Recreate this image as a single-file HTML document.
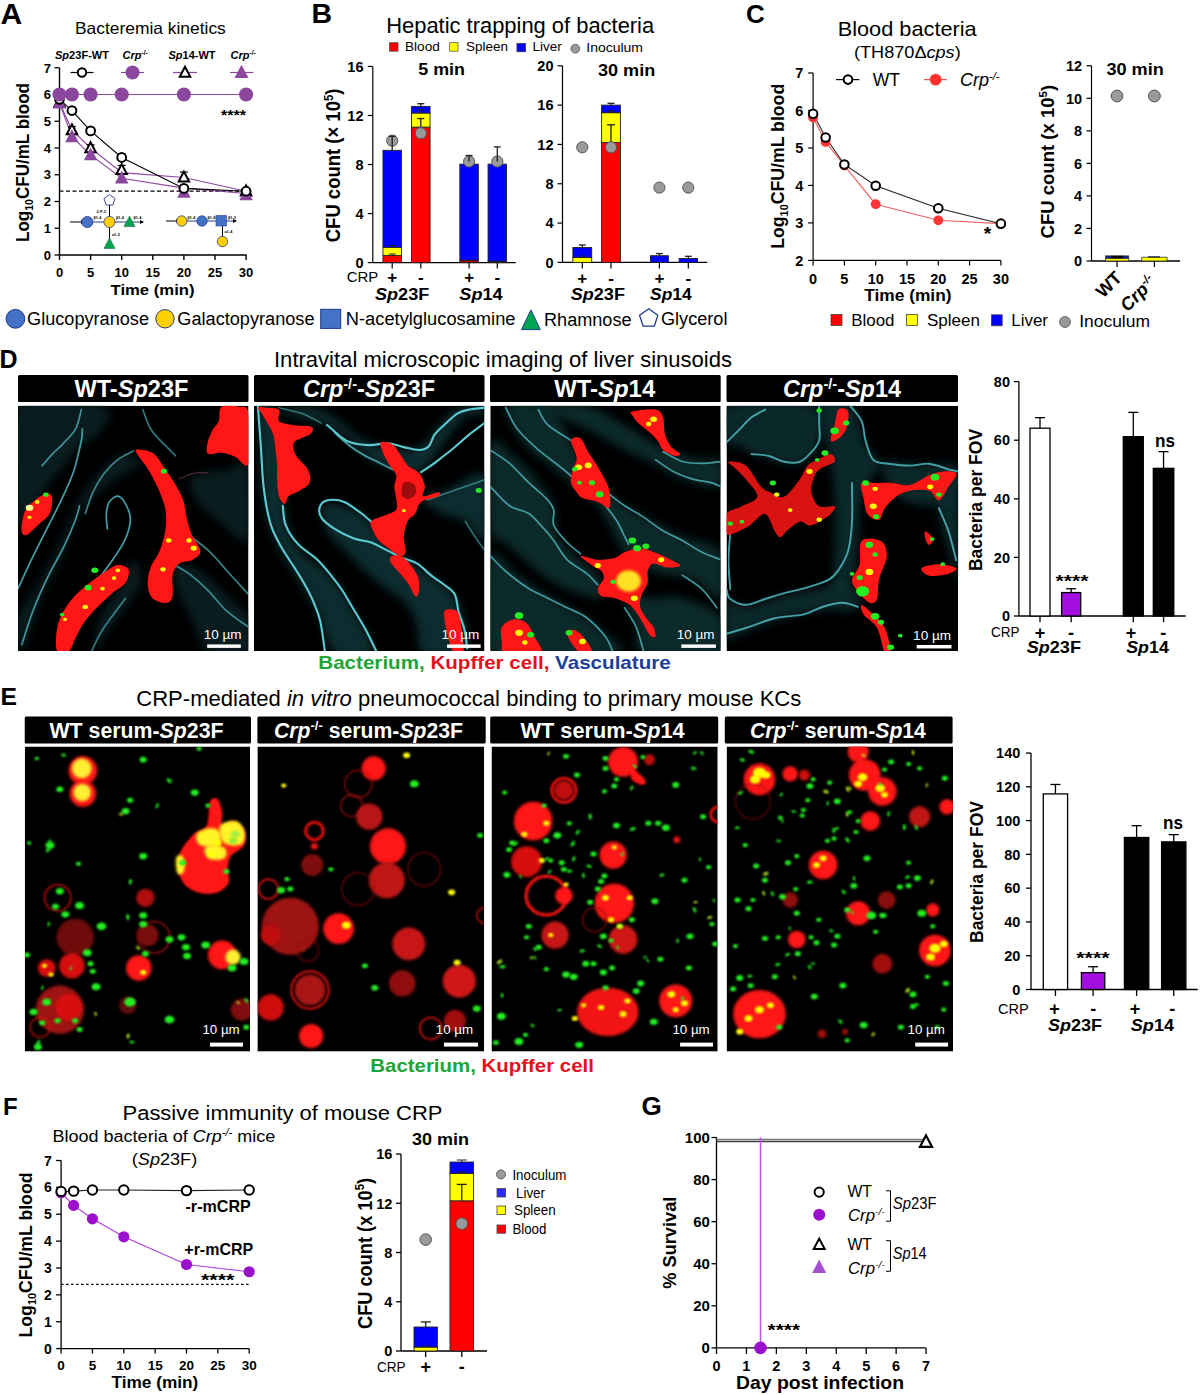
<!DOCTYPE html>
<html><head><meta charset="utf-8"><style>
html,body{margin:0;padding:0;background:#fff;}
svg{display:block;font-family:"Liberation Sans", sans-serif;}
</style></head><body>
<svg width="1200" height="1395" viewBox="0 0 1200 1395">
<rect width="1200" height="1395" fill="#fff"/>
<text x="0.5" y="23.8" font-size="30" font-weight="bold" >A</text>
<text x="75.0" y="34.2" font-size="16.5" textLength="150.8" lengthAdjust="spacingAndGlyphs" >Bacteremia kinetics</text>
<text x="55.0" y="59.0" font-size="11" textLength="54.0" lengthAdjust="spacingAndGlyphs" ><tspan font-weight="bold" font-style="italic">Sp</tspan><tspan font-weight="bold" font-style="normal">23F-WT</tspan></text>
<text x="122.5" y="59.0" font-size="11" ><tspan font-weight="bold" font-style="italic">Crp</tspan><tspan font-weight="bold" font-style="normal" font-size="6.8" dy="-3.96">-/-</tspan></text>
<text x="168.5" y="59.0" font-size="11" textLength="47.0" lengthAdjust="spacingAndGlyphs" ><tspan font-weight="bold" font-style="italic">Sp</tspan><tspan font-weight="bold" font-style="normal">14-WT</tspan></text>
<text x="230.5" y="59.0" font-size="11" ><tspan font-weight="bold" font-style="italic">Crp</tspan><tspan font-weight="bold" font-style="normal" font-size="6.8" dy="-3.96">-/-</tspan></text>
<line x1="70.50" y1="72.50" x2="93.50" y2="72.50" stroke="#000" stroke-width="1.2" />
<circle cx="82.00" cy="72.50" r="4.20" fill="#fff" stroke="#000" stroke-width="2" />
<line x1="121.00" y1="72.50" x2="144.00" y2="72.50" stroke="#8b479e" stroke-width="1.2" />
<circle cx="132.50" cy="72.50" r="7.00" fill="#8b479e" stroke="none" stroke-width="1" />
<line x1="173.00" y1="72.50" x2="197.00" y2="72.50" stroke="#8b479e" stroke-width="1.2" />
<polygon points="185.00,66.71 190.25,76.69 179.75,76.69" fill="#fff" stroke="#000" stroke-width="2" stroke-linejoin="miter"/>
<line x1="230.00" y1="72.50" x2="253.50" y2="72.50" stroke="#8b479e" stroke-width="1.2" />
<polygon points="241.50,64.79 248.50,78.09 234.50,78.09" fill="#8b479e" stroke="none" stroke-width="1" stroke-linejoin="miter"/>
<line x1="59.50" y1="67.75" x2="59.50" y2="255.00" stroke="#000" stroke-width="1.4" />
<line x1="59.50" y1="255.00" x2="246.60" y2="255.00" stroke="#000" stroke-width="1.6" />
<line x1="54.50" y1="255.00" x2="59.50" y2="255.00" stroke="#000" stroke-width="1.3" />
<text x="51.0" y="259.7" font-size="13" font-weight="bold" text-anchor="end" >0</text>
<line x1="54.50" y1="228.25" x2="59.50" y2="228.25" stroke="#000" stroke-width="1.3" />
<text x="51.0" y="232.9" font-size="13" font-weight="bold" text-anchor="end" >1</text>
<line x1="54.50" y1="201.50" x2="59.50" y2="201.50" stroke="#000" stroke-width="1.3" />
<text x="51.0" y="206.2" font-size="13" font-weight="bold" text-anchor="end" >2</text>
<line x1="54.50" y1="174.75" x2="59.50" y2="174.75" stroke="#000" stroke-width="1.3" />
<text x="51.0" y="179.4" font-size="13" font-weight="bold" text-anchor="end" >3</text>
<line x1="54.50" y1="148.00" x2="59.50" y2="148.00" stroke="#000" stroke-width="1.3" />
<text x="51.0" y="152.7" font-size="13" font-weight="bold" text-anchor="end" >4</text>
<line x1="54.50" y1="121.25" x2="59.50" y2="121.25" stroke="#000" stroke-width="1.3" />
<text x="51.0" y="126.0" font-size="13" font-weight="bold" text-anchor="end" >5</text>
<line x1="54.50" y1="94.50" x2="59.50" y2="94.50" stroke="#000" stroke-width="1.3" />
<text x="51.0" y="99.2" font-size="13" font-weight="bold" text-anchor="end" >6</text>
<line x1="54.50" y1="67.75" x2="59.50" y2="67.75" stroke="#000" stroke-width="1.3" />
<text x="51.0" y="72.5" font-size="13" font-weight="bold" text-anchor="end" >7</text>
<line x1="59.50" y1="255.00" x2="59.50" y2="260.00" stroke="#000" stroke-width="1.4" />
<text x="59.5" y="276.5" font-size="13" font-weight="bold" text-anchor="middle" >0</text>
<line x1="90.60" y1="255.00" x2="90.60" y2="260.00" stroke="#000" stroke-width="1.4" />
<text x="90.6" y="276.5" font-size="13" font-weight="bold" text-anchor="middle" >5</text>
<line x1="121.70" y1="255.00" x2="121.70" y2="260.00" stroke="#000" stroke-width="1.4" />
<text x="121.7" y="276.5" font-size="13" font-weight="bold" text-anchor="middle" >10</text>
<line x1="152.80" y1="255.00" x2="152.80" y2="260.00" stroke="#000" stroke-width="1.4" />
<text x="152.8" y="276.5" font-size="13" font-weight="bold" text-anchor="middle" >15</text>
<line x1="183.90" y1="255.00" x2="183.90" y2="260.00" stroke="#000" stroke-width="1.4" />
<text x="183.9" y="276.5" font-size="13" font-weight="bold" text-anchor="middle" >20</text>
<line x1="215.00" y1="255.00" x2="215.00" y2="260.00" stroke="#000" stroke-width="1.4" />
<text x="215.0" y="276.5" font-size="13" font-weight="bold" text-anchor="middle" >25</text>
<line x1="246.10" y1="255.00" x2="246.10" y2="260.00" stroke="#000" stroke-width="1.4" />
<text x="246.1" y="276.5" font-size="13" font-weight="bold" text-anchor="middle" >30</text>
<text x="152.5" y="295.2" font-size="14.5" font-weight="bold" text-anchor="middle" textLength="84.0" lengthAdjust="spacingAndGlyphs" >Time (min)</text>
<g transform="translate(28.8,162.5) rotate(-90)">
<text x="0.0" y="0.0" font-size="17.5" text-anchor="middle" textLength="159.0" lengthAdjust="spacingAndGlyphs" ><tspan font-weight="bold" font-style="normal">Log</tspan><tspan font-weight="bold" font-style="normal" font-size="10.8" dy="3.85">10</tspan><tspan font-weight="bold" font-style="normal" dy="-3.85">CFU/mL blood</tspan></text>
</g>
<line x1="59.50" y1="191.20" x2="246.10" y2="191.20" stroke="#000" stroke-width="1.3" stroke-dasharray="4,2.5"/>
<polyline points="59.50,102.53 71.94,130.08 90.60,148.00 121.70,172.61 183.90,177.43 246.10,191.20" fill="none" stroke="#8b479e" stroke-width="1.1" />
<polyline points="59.50,103.06 71.94,136.76 90.60,154.95 121.70,178.23 183.90,188.12 246.10,193.47" fill="none" stroke="#8b479e" stroke-width="1.1" />
<polyline points="59.50,99.31 71.94,110.55 90.60,130.88 121.70,157.50 183.90,188.39 246.10,191.20" fill="none" stroke="#000" stroke-width="1.1" />
<polyline points="59.50,94.50 71.94,94.50 90.60,94.50 121.70,94.50 183.90,94.50 246.10,94.50" fill="none" stroke="#8b479e" stroke-width="1.1" />
<line x1="90.60" y1="130.88" x2="90.60" y2="127.94" stroke="#000" stroke-width="1.2" />
<line x1="86.60" y1="127.94" x2="94.60" y2="127.94" stroke="#000" stroke-width="1.2" />
<line x1="121.70" y1="157.50" x2="121.70" y2="153.88" stroke="#000" stroke-width="1.2" />
<line x1="117.70" y1="153.88" x2="125.70" y2="153.88" stroke="#000" stroke-width="1.2" />
<line x1="183.90" y1="177.43" x2="183.90" y2="172.07" stroke="#000" stroke-width="1.2" />
<line x1="179.90" y1="172.07" x2="187.90" y2="172.07" stroke="#000" stroke-width="1.2" />
<line x1="121.70" y1="169.94" x2="121.70" y2="165.39" stroke="#000" stroke-width="1.2" />
<line x1="117.70" y1="165.39" x2="125.70" y2="165.39" stroke="#000" stroke-width="1.2" />
<line x1="90.60" y1="148.00" x2="90.60" y2="144.79" stroke="#000" stroke-width="1.2" />
<line x1="86.60" y1="144.79" x2="94.60" y2="144.79" stroke="#000" stroke-width="1.2" />
<line x1="71.94" y1="130.08" x2="71.94" y2="126.60" stroke="#000" stroke-width="1.2" />
<line x1="67.94" y1="126.60" x2="75.94" y2="126.60" stroke="#000" stroke-width="1.2" />
<polygon points="59.50,96.74 64.75,106.71 54.25,106.71" fill="#fff" stroke="#000" stroke-width="2" stroke-linejoin="miter"/>
<polygon points="71.94,124.29 77.19,134.27 66.69,134.27" fill="#fff" stroke="#000" stroke-width="2" stroke-linejoin="miter"/>
<polygon points="90.60,142.21 95.85,152.19 85.35,152.19" fill="#fff" stroke="#000" stroke-width="2" stroke-linejoin="miter"/>
<polygon points="121.70,164.15 126.95,174.12 116.45,174.12" fill="#fff" stroke="#000" stroke-width="2" stroke-linejoin="miter"/>
<polygon points="183.90,171.64 189.15,181.61 178.65,181.61" fill="#fff" stroke="#000" stroke-width="2" stroke-linejoin="miter"/>
<polygon points="246.10,185.42 251.35,195.39 240.85,195.39" fill="#fff" stroke="#000" stroke-width="2" stroke-linejoin="miter"/>
<polygon points="59.50,95.62 66.25,108.45 52.75,108.45" fill="#8b479e" stroke="none" stroke-width="1" stroke-linejoin="miter"/>
<polygon points="71.94,129.33 78.69,142.15 65.19,142.15" fill="#8b479e" stroke="none" stroke-width="1" stroke-linejoin="miter"/>
<polygon points="90.60,147.52 97.35,160.34 83.85,160.34" fill="#8b479e" stroke="none" stroke-width="1" stroke-linejoin="miter"/>
<polygon points="121.70,170.79 128.45,183.61 114.95,183.61" fill="#8b479e" stroke="none" stroke-width="1" stroke-linejoin="miter"/>
<polygon points="183.90,184.97 190.65,197.79 177.15,197.79" fill="#8b479e" stroke="none" stroke-width="1" stroke-linejoin="miter"/>
<polygon points="246.10,187.37 252.85,200.20 239.35,200.20" fill="#8b479e" stroke="none" stroke-width="1" stroke-linejoin="miter"/>
<circle cx="59.50" cy="99.31" r="4.40" fill="#fff" stroke="#000" stroke-width="2" />
<circle cx="71.94" cy="110.55" r="4.40" fill="#fff" stroke="#000" stroke-width="2" />
<circle cx="90.60" cy="130.88" r="4.40" fill="#fff" stroke="#000" stroke-width="2" />
<circle cx="121.70" cy="157.50" r="4.40" fill="#fff" stroke="#000" stroke-width="2" />
<circle cx="183.90" cy="188.39" r="4.40" fill="#fff" stroke="#000" stroke-width="2" />
<circle cx="246.10" cy="191.20" r="4.40" fill="#fff" stroke="#000" stroke-width="2" />
<circle cx="59.50" cy="94.50" r="7.10" fill="#8b479e" stroke="none" stroke-width="1" />
<circle cx="71.94" cy="94.50" r="7.10" fill="#8b479e" stroke="none" stroke-width="1" />
<circle cx="90.60" cy="94.50" r="7.10" fill="#8b479e" stroke="none" stroke-width="1" />
<circle cx="121.70" cy="94.50" r="7.10" fill="#8b479e" stroke="none" stroke-width="1" />
<circle cx="183.90" cy="94.50" r="7.10" fill="#8b479e" stroke="none" stroke-width="1" />
<circle cx="246.10" cy="94.50" r="7.10" fill="#8b479e" stroke="none" stroke-width="1" />
<text x="233.5" y="119.5" font-size="15" font-weight="bold" text-anchor="middle" textLength="25.0" lengthAdjust="spacingAndGlyphs" >****</text>
<line x1="70.00" y1="222.00" x2="84.00" y2="222.00" stroke="#000" stroke-width="1" />
<polygon points="81.00,219.80 85.00,222.00 81.00,224.20" fill="#000" stroke="none" stroke-width="1" />
<line x1="87.30" y1="222.00" x2="143.00" y2="222.00" stroke="#2b3d8f" stroke-width="1" />
<polygon points="140.00,220.00 144.00,222.00 140.00,224.00" fill="#000" stroke="none" stroke-width="1" />
<line x1="109.50" y1="200.00" x2="109.50" y2="242.00" stroke="#000" stroke-width="1" />
<circle cx="87.30" cy="222.00" r="5.60" fill="#4472c4" stroke="#2b3d8f" stroke-width="0.8" />
<circle cx="109.50" cy="222.00" r="5.60" fill="#ffd000" stroke="#2b3d8f" stroke-width="0.8" />
<polygon points="129.50,216.14 135.00,226.59 124.00,226.59" fill="#00a550" stroke="#1f5f3f" stroke-width="0.6" stroke-linejoin="miter"/>
<polygon points="109.50,237.94 115.00,248.39 104.00,248.39" fill="#00a550" stroke="#1f5f3f" stroke-width="0.6" stroke-linejoin="miter"/>
<polygon points="109.50,194.50 115.02,198.51 112.91,204.99 106.09,204.99 103.98,198.51" fill="#fff" stroke="#2b3d8f" stroke-width="0.9" />
<text x="96.5" y="213.0" font-size="3.8" font-weight="bold" >2-P-3</text>
<text x="93.5" y="219.3" font-size="3.8" font-weight="bold" >β1-4</text>
<text x="116.0" y="219.3" font-size="3.8" font-weight="bold" >β1-4</text>
<text x="133.5" y="219.3" font-size="3.8" font-weight="bold" >β1-4</text>
<text x="112.0" y="235.5" font-size="3.8" font-weight="bold" >α1-2</text>
<line x1="166.00" y1="221.00" x2="179.00" y2="221.00" stroke="#000" stroke-width="1" />
<polygon points="176.00,219.00 180.00,221.00 176.00,223.00" fill="#000" stroke="none" stroke-width="1" />
<line x1="181.75" y1="221.00" x2="236.00" y2="221.00" stroke="#2b3d8f" stroke-width="1" />
<polygon points="233.00,219.00 237.00,221.00 233.00,223.00" fill="#000" stroke="none" stroke-width="1" />
<line x1="222.50" y1="221.00" x2="222.50" y2="240.00" stroke="#000" stroke-width="1" />
<circle cx="181.75" cy="221.00" r="5.20" fill="#ffd000" stroke="#2b3d8f" stroke-width="0.8" />
<circle cx="202.00" cy="221.00" r="5.20" fill="#4472c4" stroke="#2b3d8f" stroke-width="0.8" />
<rect x="216.00" y="215.50" width="10.50" height="10.50" fill="#4472c4" stroke="#2b3d8f" stroke-width="0.6" />
<circle cx="222.50" cy="241.50" r="5.20" fill="#ffd000" stroke="#2b3d8f" stroke-width="0.8" />
<text x="187.5" y="218.5" font-size="3.8" font-weight="bold" >β1-4</text>
<text x="207.5" y="218.5" font-size="3.8" font-weight="bold" >β1-4</text>
<text x="228.0" y="218.5" font-size="3.8" font-weight="bold" >β1-3</text>
<text x="224.5" y="233.0" font-size="3.8" font-weight="bold" >α1-4</text>
<circle cx="15.40" cy="318.80" r="9.40" fill="#4472c4" stroke="#1f3a8a" stroke-width="1" />
<text x="27.1" y="324.7" font-size="18" textLength="121.9" lengthAdjust="spacingAndGlyphs" >Glucopyranose</text>
<circle cx="165.00" cy="318.80" r="9.20" fill="#ffd000" stroke="#1f3a8a" stroke-width="1" />
<text x="177.3" y="324.7" font-size="18" textLength="137.2" lengthAdjust="spacingAndGlyphs" >Galactopyranose</text>
<rect x="320.70" y="309.30" width="20.00" height="19.10" fill="#4472c4" stroke="#1f3a8a" stroke-width="1" />
<text x="345.8" y="324.5" font-size="18" textLength="169.7" lengthAdjust="spacingAndGlyphs" >N-acetylglucosamine</text>
<polygon points="530.90,309.90 540.30,329.60 521.50,329.60" fill="#00a550" stroke="#1f3a8a" stroke-width="1" />
<text x="544.0" y="326.0" font-size="18" textLength="87.5" lengthAdjust="spacingAndGlyphs" >Rhamnose</text>
<polygon points="648.70,308.70 657.83,315.33 654.34,326.07 643.06,326.07 639.57,315.33" fill="#fff" stroke="#1f3a8a" stroke-width="1.3" />
<text x="661.0" y="324.5" font-size="18" textLength="66.4" lengthAdjust="spacingAndGlyphs" >Glycerol</text>
<text x="311.5" y="22.8" font-size="28.5" font-weight="bold" >B</text>
<text x="386.2" y="33.0" font-size="22" textLength="268.0" lengthAdjust="spacingAndGlyphs" >Hepatic trapping of bacteria</text>
<rect x="389.50" y="42.70" width="8.50" height="8.50" fill="#ff0000" stroke="#444" stroke-width="0.7" />
<text x="405.0" y="51.0" font-size="13.5" textLength="34.8" lengthAdjust="spacingAndGlyphs" >Blood</text>
<rect x="449.70" y="42.70" width="8.30" height="8.50" fill="#ffff00" stroke="#444" stroke-width="0.7" />
<text x="466.0" y="51.0" font-size="13.5" textLength="42.0" lengthAdjust="spacingAndGlyphs" >Spleen</text>
<rect x="516.90" y="43.30" width="8.80" height="8.50" fill="#0000ff" stroke="#444" stroke-width="0.7" />
<text x="532.5" y="51.2" font-size="13.5" textLength="29.2" lengthAdjust="spacingAndGlyphs" >Liver</text>
<circle cx="575.30" cy="48.70" r="4.40" fill="#9a9a9a" stroke="#555" stroke-width="0.8" />
<text x="586.3" y="51.5" font-size="13.5" textLength="56.7" lengthAdjust="spacingAndGlyphs" >Inoculum</text>
<line x1="372.80" y1="66.44" x2="372.80" y2="262.60" stroke="#000" stroke-width="1.2" />
<line x1="372.80" y1="262.60" x2="515.80" y2="262.60" stroke="#000" stroke-width="1.4" />
<line x1="367.80" y1="262.60" x2="372.80" y2="262.60" stroke="#000" stroke-width="1.2" />
<text x="363.5" y="267.8" font-size="14.5" font-weight="bold" text-anchor="end" >0</text>
<line x1="367.80" y1="213.56" x2="372.80" y2="213.56" stroke="#000" stroke-width="1.2" />
<text x="363.5" y="218.8" font-size="14.5" font-weight="bold" text-anchor="end" >4</text>
<line x1="367.80" y1="164.52" x2="372.80" y2="164.52" stroke="#000" stroke-width="1.2" />
<text x="363.5" y="169.7" font-size="14.5" font-weight="bold" text-anchor="end" >8</text>
<line x1="367.80" y1="115.48" x2="372.80" y2="115.48" stroke="#000" stroke-width="1.2" />
<text x="363.5" y="120.7" font-size="14.5" font-weight="bold" text-anchor="end" >12</text>
<line x1="367.80" y1="66.44" x2="372.80" y2="66.44" stroke="#000" stroke-width="1.2" />
<text x="363.5" y="71.6" font-size="14.5" font-weight="bold" text-anchor="end" >16</text>
<text x="441.6" y="75.2" font-size="16" font-weight="bold" text-anchor="middle" textLength="46.7" lengthAdjust="spacingAndGlyphs" >5 min</text>
<line x1="392.20" y1="262.60" x2="392.20" y2="268.60" stroke="#000" stroke-width="1.2" />
<line x1="420.80" y1="262.60" x2="420.80" y2="268.60" stroke="#000" stroke-width="1.2" />
<line x1="469.10" y1="262.60" x2="469.10" y2="268.60" stroke="#000" stroke-width="1.2" />
<line x1="497.30" y1="262.60" x2="497.30" y2="268.60" stroke="#000" stroke-width="1.2" />
<rect x="382.95" y="255.49" width="18.50" height="7.11" fill="#ff0000" stroke="#222" stroke-width="0.9" />
<rect x="382.95" y="247.28" width="18.50" height="8.21" fill="#ffff00" stroke="#222" stroke-width="0.9" />
<rect x="382.95" y="150.30" width="18.50" height="96.98" fill="#0000ff" stroke="#222" stroke-width="0.9" />
<line x1="392.20" y1="247.28" x2="392.20" y2="245.44" stroke="#222" stroke-width="1" />
<line x1="388.70" y1="245.44" x2="395.70" y2="245.44" stroke="#222" stroke-width="1" />
<line x1="392.20" y1="255.49" x2="392.20" y2="254.02" stroke="#222" stroke-width="1" />
<line x1="388.70" y1="254.02" x2="395.70" y2="254.02" stroke="#222" stroke-width="1" />
<circle cx="392.20" cy="140.70" r="5.60" fill="#9a9a9a" stroke="#555" stroke-width="1" />
<line x1="392.20" y1="150.30" x2="392.20" y2="136.32" stroke="#222" stroke-width="1.3" />
<line x1="388.70" y1="136.32" x2="395.70" y2="136.32" stroke="#222" stroke-width="1.3" />
<rect x="411.55" y="127.13" width="18.50" height="135.47" fill="#ff0000" stroke="#222" stroke-width="0.9" />
<rect x="411.55" y="113.03" width="18.50" height="14.10" fill="#ffff00" stroke="#222" stroke-width="0.9" />
<rect x="411.55" y="106.41" width="18.50" height="6.62" fill="#0000ff" stroke="#222" stroke-width="0.9" />
<line x1="420.80" y1="127.13" x2="420.80" y2="118.55" stroke="#222" stroke-width="1.3" />
<line x1="417.30" y1="118.55" x2="424.30" y2="118.55" stroke="#222" stroke-width="1.3" />
<line x1="420.80" y1="113.03" x2="420.80" y2="109.96" stroke="#222" stroke-width="1.3" />
<line x1="417.30" y1="109.96" x2="424.30" y2="109.96" stroke="#222" stroke-width="1.3" />
<line x1="420.80" y1="106.41" x2="420.80" y2="103.71" stroke="#222" stroke-width="1.3" />
<line x1="417.30" y1="103.71" x2="424.30" y2="103.71" stroke="#222" stroke-width="1.3" />
<circle cx="420.80" cy="133.20" r="5.60" fill="#9a9a9a" stroke="#555" stroke-width="1" />
<rect x="459.85" y="260.15" width="18.50" height="2.45" fill="#b00000" stroke="#222" stroke-width="0.9" />
<rect x="459.85" y="164.15" width="18.50" height="96.00" fill="#0000ff" stroke="#222" stroke-width="0.9" />
<circle cx="469.10" cy="161.50" r="5.60" fill="#9a9a9a" stroke="#555" stroke-width="1" />
<line x1="469.10" y1="161.50" x2="469.10" y2="155.50" stroke="#222" stroke-width="1.3" />
<line x1="465.60" y1="155.50" x2="472.60" y2="155.50" stroke="#222" stroke-width="1.3" />
<rect x="488.05" y="261.13" width="18.50" height="1.47" fill="#200000" stroke="#222" stroke-width="0.9" />
<rect x="488.05" y="164.15" width="18.50" height="96.98" fill="#0000ff" stroke="#222" stroke-width="0.9" />
<circle cx="497.30" cy="161.50" r="5.60" fill="#9a9a9a" stroke="#555" stroke-width="1" />
<line x1="497.30" y1="161.50" x2="497.30" y2="146.90" stroke="#222" stroke-width="1.3" />
<line x1="493.80" y1="146.90" x2="500.80" y2="146.90" stroke="#222" stroke-width="1.3" />
<line x1="562.50" y1="65.80" x2="562.50" y2="262.40" stroke="#000" stroke-width="1.2" />
<line x1="562.50" y1="262.40" x2="707.30" y2="262.40" stroke="#000" stroke-width="1.4" />
<line x1="557.50" y1="262.40" x2="562.50" y2="262.40" stroke="#000" stroke-width="1.2" />
<text x="553.5" y="267.6" font-size="14.5" font-weight="bold" text-anchor="end" >0</text>
<line x1="557.50" y1="223.08" x2="562.50" y2="223.08" stroke="#000" stroke-width="1.2" />
<text x="553.5" y="228.3" font-size="14.5" font-weight="bold" text-anchor="end" >4</text>
<line x1="557.50" y1="183.76" x2="562.50" y2="183.76" stroke="#000" stroke-width="1.2" />
<text x="553.5" y="189.0" font-size="14.5" font-weight="bold" text-anchor="end" >8</text>
<line x1="557.50" y1="144.44" x2="562.50" y2="144.44" stroke="#000" stroke-width="1.2" />
<text x="553.5" y="149.6" font-size="14.5" font-weight="bold" text-anchor="end" >12</text>
<line x1="557.50" y1="105.12" x2="562.50" y2="105.12" stroke="#000" stroke-width="1.2" />
<text x="553.5" y="110.3" font-size="14.5" font-weight="bold" text-anchor="end" >16</text>
<line x1="557.50" y1="65.80" x2="562.50" y2="65.80" stroke="#000" stroke-width="1.2" />
<text x="553.5" y="71.0" font-size="14.5" font-weight="bold" text-anchor="end" >20</text>
<text x="626.6" y="75.6" font-size="16" font-weight="bold" text-anchor="middle" textLength="57.3" lengthAdjust="spacingAndGlyphs" >30 min</text>
<line x1="582.30" y1="262.40" x2="582.30" y2="268.40" stroke="#000" stroke-width="1.2" />
<line x1="611.00" y1="262.40" x2="611.00" y2="268.40" stroke="#000" stroke-width="1.2" />
<line x1="659.40" y1="262.40" x2="659.40" y2="268.40" stroke="#000" stroke-width="1.2" />
<line x1="688.30" y1="262.40" x2="688.30" y2="268.40" stroke="#000" stroke-width="1.2" />
<rect x="572.90" y="257.48" width="18.80" height="4.92" fill="#ffff00" stroke="#222" stroke-width="0.9" />
<rect x="572.90" y="247.46" width="18.80" height="10.03" fill="#0000ff" stroke="#222" stroke-width="0.9" />
<line x1="582.30" y1="247.46" x2="582.30" y2="245.00" stroke="#222" stroke-width="1.3" />
<line x1="578.80" y1="245.00" x2="585.80" y2="245.00" stroke="#222" stroke-width="1.3" />
<line x1="582.30" y1="257.48" x2="582.30" y2="256.01" stroke="#222" stroke-width="1" />
<line x1="578.80" y1="256.01" x2="585.80" y2="256.01" stroke="#222" stroke-width="1" />
<circle cx="582.30" cy="147.30" r="5.60" fill="#9a9a9a" stroke="#555" stroke-width="1" />
<rect x="601.60" y="142.47" width="18.80" height="119.93" fill="#ff0000" stroke="#222" stroke-width="0.9" />
<rect x="601.60" y="112.69" width="18.80" height="29.78" fill="#ffff00" stroke="#222" stroke-width="0.9" />
<rect x="601.60" y="105.12" width="18.80" height="7.57" fill="#0000ff" stroke="#222" stroke-width="0.9" />
<line x1="611.00" y1="142.47" x2="611.00" y2="124.78" stroke="#222" stroke-width="1.3" />
<line x1="607.00" y1="124.78" x2="615.00" y2="124.78" stroke="#222" stroke-width="1.3" />
<line x1="611.00" y1="112.69" x2="611.00" y2="111.02" stroke="#222" stroke-width="1.3" />
<line x1="607.50" y1="111.02" x2="614.50" y2="111.02" stroke="#222" stroke-width="1.3" />
<line x1="611.00" y1="105.12" x2="611.00" y2="103.35" stroke="#222" stroke-width="1.3" />
<line x1="607.50" y1="103.35" x2="614.50" y2="103.35" stroke="#222" stroke-width="1.3" />
<circle cx="611.00" cy="147.30" r="5.60" fill="#9a9a9a" stroke="#555" stroke-width="1" />
<rect x="650.45" y="255.72" width="17.90" height="6.68" fill="#0000ff" stroke="#222" stroke-width="0.9" />
<line x1="659.40" y1="255.72" x2="659.40" y2="253.55" stroke="#222" stroke-width="1.3" />
<line x1="655.90" y1="253.55" x2="662.90" y2="253.55" stroke="#222" stroke-width="1.3" />
<circle cx="659.40" cy="187.60" r="5.60" fill="#9a9a9a" stroke="#555" stroke-width="1" />
<rect x="679.15" y="258.47" width="18.30" height="3.93" fill="#0000ff" stroke="#222" stroke-width="0.9" />
<line x1="688.30" y1="258.47" x2="688.30" y2="256.31" stroke="#222" stroke-width="1.3" />
<line x1="684.80" y1="256.31" x2="691.80" y2="256.31" stroke="#222" stroke-width="1.3" />
<circle cx="688.30" cy="187.60" r="5.60" fill="#9a9a9a" stroke="#555" stroke-width="1" />
<text x="346.7" y="282.3" font-size="15" textLength="31.6" lengthAdjust="spacingAndGlyphs" >CRP</text>
<text x="392.2" y="282.5" font-size="17" font-weight="bold" text-anchor="middle" >+</text>
<text x="420.8" y="282.5" font-size="17" font-weight="bold" text-anchor="middle" >-</text>
<text x="469.1" y="282.5" font-size="17" font-weight="bold" text-anchor="middle" >+</text>
<text x="497.3" y="282.5" font-size="17" font-weight="bold" text-anchor="middle" >-</text>
<text x="582.3" y="284.0" font-size="17" font-weight="bold" text-anchor="middle" >+</text>
<text x="611.0" y="284.0" font-size="17" font-weight="bold" text-anchor="middle" >-</text>
<text x="659.4" y="284.0" font-size="17" font-weight="bold" text-anchor="middle" >+</text>
<text x="688.3" y="284.0" font-size="17" font-weight="bold" text-anchor="middle" >-</text>
<text x="375.0" y="300.0" font-size="16.3" textLength="54.3" lengthAdjust="spacingAndGlyphs" ><tspan font-weight="bold" font-style="italic">Sp</tspan><tspan font-weight="bold" font-style="normal">23F</tspan></text>
<text x="459.3" y="300.0" font-size="16.3" textLength="43.4" lengthAdjust="spacingAndGlyphs" ><tspan font-weight="bold" font-style="italic">Sp</tspan><tspan font-weight="bold" font-style="normal">14</tspan></text>
<text x="570.7" y="299.5" font-size="16.3" textLength="54.3" lengthAdjust="spacingAndGlyphs" ><tspan font-weight="bold" font-style="italic">Sp</tspan><tspan font-weight="bold" font-style="normal">23F</tspan></text>
<text x="650.0" y="299.5" font-size="16.3" textLength="41.7" lengthAdjust="spacingAndGlyphs" ><tspan font-weight="bold" font-style="italic">Sp</tspan><tspan font-weight="bold" font-style="normal">14</tspan></text>
<g transform="translate(339.7,165.4) rotate(-90)">
<text x="0.0" y="0.0" font-size="20" text-anchor="middle" textLength="153.7" lengthAdjust="spacingAndGlyphs" ><tspan font-weight="bold" font-style="normal">CFU count (× 10</tspan><tspan font-weight="bold" font-style="normal" font-size="12.4" dy="-7.20">5</tspan><tspan font-weight="bold" font-style="normal" dy="7.20">)</tspan></text>
</g>
<text x="746.0" y="22.9" font-size="26" font-weight="bold" >C</text>
<text x="837.7" y="35.6" font-size="20.8" textLength="139.0" lengthAdjust="spacingAndGlyphs" >Blood bacteria</text>
<text x="854.0" y="57.6" font-size="16" textLength="106.7" lengthAdjust="spacingAndGlyphs" ><tspan font-weight="normal" font-style="normal">(TH870Δ</tspan><tspan font-weight="normal" font-style="italic">cps</tspan><tspan font-weight="normal" font-style="normal">)</tspan></text>
<line x1="836.00" y1="79.60" x2="859.30" y2="79.60" stroke="#000" stroke-width="1.2" />
<circle cx="848.00" cy="79.60" r="4.30" fill="#fff" stroke="#000" stroke-width="2" />
<text x="872.7" y="86.0" font-size="18" textLength="27.3" lengthAdjust="spacingAndGlyphs" >WT</text>
<line x1="924.00" y1="79.60" x2="947.00" y2="79.60" stroke="#f05050" stroke-width="1.2" />
<circle cx="935.60" cy="79.60" r="5.70" fill="#ff3030" stroke="#f05050" stroke-width="0.5" />
<text x="960.0" y="86.0" font-size="18" ><tspan font-weight="normal" font-style="italic">Crp</tspan><tspan font-weight="normal" font-style="italic" font-size="11.2" dy="-6.48">-/-</tspan></text>
<line x1="813.10" y1="73.00" x2="813.10" y2="260.40" stroke="#000" stroke-width="1.2" />
<line x1="813.10" y1="260.40" x2="1000.90" y2="260.40" stroke="#000" stroke-width="1.4" />
<line x1="808.10" y1="260.40" x2="813.10" y2="260.40" stroke="#000" stroke-width="1.2" />
<text x="803.3" y="265.6" font-size="14.5" font-weight="bold" text-anchor="end" >2</text>
<line x1="808.10" y1="222.92" x2="813.10" y2="222.92" stroke="#000" stroke-width="1.2" />
<text x="803.3" y="228.1" font-size="14.5" font-weight="bold" text-anchor="end" >3</text>
<line x1="808.10" y1="185.44" x2="813.10" y2="185.44" stroke="#000" stroke-width="1.2" />
<text x="803.3" y="190.6" font-size="14.5" font-weight="bold" text-anchor="end" >4</text>
<line x1="808.10" y1="147.96" x2="813.10" y2="147.96" stroke="#000" stroke-width="1.2" />
<text x="803.3" y="153.2" font-size="14.5" font-weight="bold" text-anchor="end" >5</text>
<line x1="808.10" y1="110.48" x2="813.10" y2="110.48" stroke="#000" stroke-width="1.2" />
<text x="803.3" y="115.7" font-size="14.5" font-weight="bold" text-anchor="end" >6</text>
<line x1="808.10" y1="73.00" x2="813.10" y2="73.00" stroke="#000" stroke-width="1.2" />
<text x="803.3" y="78.2" font-size="14.5" font-weight="bold" text-anchor="end" >7</text>
<line x1="813.10" y1="260.40" x2="813.10" y2="265.40" stroke="#000" stroke-width="1.2" />
<text x="813.1" y="283.5" font-size="14.5" font-weight="bold" text-anchor="middle" >0</text>
<line x1="844.40" y1="260.40" x2="844.40" y2="265.40" stroke="#000" stroke-width="1.2" />
<text x="844.4" y="283.5" font-size="14.5" font-weight="bold" text-anchor="middle" >5</text>
<line x1="875.70" y1="260.40" x2="875.70" y2="265.40" stroke="#000" stroke-width="1.2" />
<text x="875.7" y="283.5" font-size="14.5" font-weight="bold" text-anchor="middle" >10</text>
<line x1="907.00" y1="260.40" x2="907.00" y2="265.40" stroke="#000" stroke-width="1.2" />
<text x="907.0" y="283.5" font-size="14.5" font-weight="bold" text-anchor="middle" >15</text>
<line x1="938.30" y1="260.40" x2="938.30" y2="265.40" stroke="#000" stroke-width="1.2" />
<text x="938.3" y="283.5" font-size="14.5" font-weight="bold" text-anchor="middle" >20</text>
<line x1="969.60" y1="260.40" x2="969.60" y2="265.40" stroke="#000" stroke-width="1.2" />
<text x="969.6" y="283.5" font-size="14.5" font-weight="bold" text-anchor="middle" >25</text>
<line x1="1000.90" y1="260.40" x2="1000.90" y2="265.40" stroke="#000" stroke-width="1.2" />
<text x="1000.9" y="283.5" font-size="14.5" font-weight="bold" text-anchor="middle" >30</text>
<text x="907.9" y="300.5" font-size="17" font-weight="bold" text-anchor="middle" textLength="87.2" lengthAdjust="spacingAndGlyphs" >Time (min)</text>
<g transform="translate(784.4,166.3) rotate(-90)">
<text x="0.0" y="0.0" font-size="18.3" text-anchor="middle" textLength="165.0" lengthAdjust="spacingAndGlyphs" ><tspan font-weight="bold" font-style="normal">Log</tspan><tspan font-weight="bold" font-style="normal" font-size="11.3" dy="4.03">10</tspan><tspan font-weight="bold" font-style="normal" dy="-4.03">CFU/mL blood</tspan></text>
</g>
<polyline points="813.10,117.60 825.62,141.96 844.40,165.58 875.70,204.18 938.30,220.30 1000.90,223.67" fill="none" stroke="#f06060" stroke-width="1.1" />
<polyline points="813.10,113.85 825.62,137.47 844.40,164.45 875.70,185.81 938.30,208.30 1000.90,223.67" fill="none" stroke="#222" stroke-width="1.1" />
<circle cx="813.10" cy="117.60" r="4.90" fill="#ff3535" stroke="none" stroke-width="1" />
<circle cx="825.62" cy="141.96" r="4.90" fill="#ff3535" stroke="none" stroke-width="1" />
<circle cx="844.40" cy="165.58" r="4.90" fill="#ff3535" stroke="none" stroke-width="1" />
<circle cx="875.70" cy="204.18" r="4.90" fill="#ff3535" stroke="none" stroke-width="1" />
<circle cx="938.30" cy="220.30" r="4.90" fill="#ff3535" stroke="none" stroke-width="1" />
<circle cx="1000.90" cy="223.67" r="4.90" fill="#ff3535" stroke="none" stroke-width="1" />
<circle cx="813.10" cy="113.85" r="4.30" fill="#fff" stroke="#000" stroke-width="2" />
<circle cx="825.62" cy="137.47" r="4.30" fill="#fff" stroke="#000" stroke-width="2" />
<circle cx="844.40" cy="164.45" r="4.30" fill="#fff" stroke="#000" stroke-width="2" />
<circle cx="875.70" cy="185.81" r="4.30" fill="#fff" stroke="#000" stroke-width="2" />
<circle cx="938.30" cy="208.30" r="4.30" fill="#fff" stroke="#000" stroke-width="2" />
<circle cx="1000.90" cy="223.67" r="4.30" fill="#fff" stroke="#000" stroke-width="2" />
<text x="987.5" y="240.0" font-size="19" font-weight="bold" text-anchor="middle" >*</text>
<line x1="1091.50" y1="65.76" x2="1091.50" y2="261.00" stroke="#000" stroke-width="1.2" />
<line x1="1091.50" y1="261.00" x2="1180.00" y2="261.00" stroke="#000" stroke-width="1.4" />
<line x1="1086.50" y1="261.00" x2="1091.50" y2="261.00" stroke="#000" stroke-width="1.2" />
<text x="1082.2" y="266.2" font-size="14.5" font-weight="bold" text-anchor="end" >0</text>
<line x1="1086.50" y1="228.46" x2="1091.50" y2="228.46" stroke="#000" stroke-width="1.2" />
<text x="1082.2" y="233.7" font-size="14.5" font-weight="bold" text-anchor="end" >2</text>
<line x1="1086.50" y1="195.92" x2="1091.50" y2="195.92" stroke="#000" stroke-width="1.2" />
<text x="1082.2" y="201.1" font-size="14.5" font-weight="bold" text-anchor="end" >4</text>
<line x1="1086.50" y1="163.38" x2="1091.50" y2="163.38" stroke="#000" stroke-width="1.2" />
<text x="1082.2" y="168.6" font-size="14.5" font-weight="bold" text-anchor="end" >6</text>
<line x1="1086.50" y1="130.84" x2="1091.50" y2="130.84" stroke="#000" stroke-width="1.2" />
<text x="1082.2" y="136.0" font-size="14.5" font-weight="bold" text-anchor="end" >8</text>
<line x1="1086.50" y1="98.30" x2="1091.50" y2="98.30" stroke="#000" stroke-width="1.2" />
<text x="1082.2" y="103.5" font-size="14.5" font-weight="bold" text-anchor="end" >10</text>
<line x1="1086.50" y1="65.76" x2="1091.50" y2="65.76" stroke="#000" stroke-width="1.2" />
<text x="1082.2" y="71.0" font-size="14.5" font-weight="bold" text-anchor="end" >12</text>
<text x="1135.1" y="75.2" font-size="16" font-weight="bold" text-anchor="middle" textLength="57.4" lengthAdjust="spacingAndGlyphs" >30 min</text>
<line x1="1117.00" y1="261.00" x2="1117.00" y2="267.00" stroke="#000" stroke-width="1.2" />
<line x1="1154.40" y1="261.00" x2="1154.40" y2="267.00" stroke="#000" stroke-width="1.2" />
<rect x="1105.50" y="258.20" width="23.30" height="2.80" fill="#ffff00" stroke="#333" stroke-width="0.8" />
<rect x="1105.50" y="255.80" width="23.30" height="2.40" fill="#102090" stroke="#333" stroke-width="0.5" />
<rect x="1111.00" y="255.80" width="12.00" height="2.40" fill="#000" stroke="none" stroke-width="1" />
<rect x="1141.80" y="257.20" width="25.20" height="3.80" fill="#ffff00" stroke="#333" stroke-width="0.8" />
<rect x="1148.00" y="256.40" width="12.00" height="1.00" fill="#000" stroke="none" stroke-width="1" />
<circle cx="1117.00" cy="96.00" r="5.90" fill="#9a9a9a" stroke="#555" stroke-width="1" />
<circle cx="1154.40" cy="96.00" r="5.90" fill="#9a9a9a" stroke="#555" stroke-width="1" />
<g transform="translate(1054.1,161.7) rotate(-90)">
<text x="0.0" y="0.0" font-size="19" text-anchor="middle" textLength="153.6" lengthAdjust="spacingAndGlyphs" ><tspan font-weight="bold" font-style="normal">CFU count (x 10</tspan><tspan font-weight="bold" font-style="normal" font-size="11.8" dy="-6.84">5</tspan><tspan font-weight="bold" font-style="normal" dy="6.84">)</tspan></text>
</g>
<g transform="translate(1123,279) rotate(-45)">
<text x="0.0" y="0.0" font-size="18" font-weight="bold" text-anchor="end" >WT</text>
</g>
<g transform="translate(1157,283) rotate(-45)">
<text x="0.0" y="0.0" font-size="18" text-anchor="end" ><tspan font-weight="bold" font-style="italic">Crp</tspan><tspan font-weight="bold" font-style="italic" font-size="11.2" dy="-6.48">-/-</tspan></text>
</g>
<rect x="831.00" y="314.50" width="11.00" height="11.00" fill="#ff0000" stroke="#444" stroke-width="0.8" />
<text x="851.2" y="325.6" font-size="17" textLength="43.3" lengthAdjust="spacingAndGlyphs" >Blood</text>
<rect x="906.50" y="314.50" width="11.00" height="11.00" fill="#ffff00" stroke="#444" stroke-width="0.8" />
<text x="927.0" y="326.0" font-size="17" textLength="53.0" lengthAdjust="spacingAndGlyphs" >Spleen</text>
<rect x="991.40" y="314.80" width="10.80" height="11.00" fill="#0000ff" stroke="#444" stroke-width="0.8" />
<text x="1011.2" y="326.0" font-size="17" textLength="36.8" lengthAdjust="spacingAndGlyphs" >Liver</text>
<circle cx="1065.00" cy="322.00" r="5.40" fill="#9a9a9a" stroke="#555" stroke-width="0.9" />
<text x="1079.2" y="327.0" font-size="17" textLength="70.8" lengthAdjust="spacingAndGlyphs" >Inoculum</text>
<defs><filter id="b1" x="-20%" y="-20%" width="140%" height="140%"><feGaussianBlur stdDeviation="4"/></filter><filter id="b2" x="-30%" y="-30%" width="160%" height="160%"><feGaussianBlur stdDeviation="8"/></filter><filter id="b3" x="-30%" y="-30%" width="160%" height="160%"><feGaussianBlur stdDeviation="25"/></filter></defs>
<clipPath id="clip1"><rect x="18.00" y="405.70" width="230.50" height="245.30"/></clipPath>
<g clip-path="url(#clip1)">
<rect x="18.00" y="405.70" width="230.50" height="245.30" fill="#000" stroke="none" stroke-width="1" />
<g transform="translate(18.00,405.70) scale(0.19208,0.19252)">
<path d="M0,0 C75,-103 380,-25 450,0 C520,25 440,117 420,150 C400,183 358,175 330,200 C302,225 280,263 250,300 C220,337 182,377 150,420 C118,463 85,527 60,560 C35,593 10,713 0,620 C-10,527 -75,103 0,0 Z" fill="#0b2c2e" opacity="0.7" filter="url(#b3)"/>
<path d="M20,1283 C40,1266 85,1084 120,1000 C155,916 197,853 230,780 C263,707 288,615 320,560 C352,505 380,485 420,450 C460,415 523,375 560,350 C597,325 640,317 640,300 C640,283 588,250 560,250 C532,250 500,275 470,300 C440,325 408,363 380,400 C352,437 327,470 300,520 C273,570 250,637 220,700 C190,763 157,833 120,900 C83,967 17,1036 0,1100 C-17,1164 0,1300 20,1283 Z" fill="#0b2c2e" opacity="0.7" filter="url(#b3)"/>
<path d="M400,1283 C408,1291 450,1194 480,1150 C510,1106 553,1062 580,1020 C607,978 637,937 640,900 C643,863 620,790 600,800 C580,810 548,910 520,960 C492,1010 450,1046 430,1100 C410,1154 392,1275 400,1283 Z" fill="#0b2c2e" opacity="0.7" filter="url(#b3)"/>
<path d="M820,820 C840,805 903,830 950,860 C997,890 1058,960 1100,1000 C1142,1040 1183,1053 1200,1100 C1217,1147 1233,1252 1200,1283 C1167,1314 1050,1314 1000,1283 C950,1252 928,1156 900,1100 C872,1044 843,997 830,950 C817,903 800,835 820,820 Z" fill="#0b2c2e" opacity="0.7" filter="url(#b3)"/>
<path d="M900,380 C925,348 1050,340 1100,330 C1150,320 1183,258 1200,320 C1217,382 1225,653 1200,700 C1175,747 1092,630 1050,600 C1008,570 975,557 950,520 C925,483 875,412 900,380 Z" fill="#0b2c2e" opacity="0.7" filter="url(#b3)"/>
<path d="M0,950 C12,925 45,852 70,800 C95,748 123,693 150,640 C177,587 207,530 230,480 C253,430 273,390 290,340 C307,290 322,217 330,180 C338,143 334,130 335,120" fill="none" stroke="#4fb8c0" stroke-width="9" opacity="0.85" stroke-linecap="round" filter="url(#b1)"/>
<path d="M20,1240 C30,1210 57,1120 80,1060 C103,1000 133,935 160,880 C187,825 217,778 240,730 C263,682 287,625 300,590 C313,555 317,532 320,520" fill="none" stroke="#4fb8c0" stroke-width="9" opacity="0.8" stroke-linecap="round" filter="url(#b1)"/>
<path d="M125,312 C134,302 162,268 180,250 C198,232 211,223 231,201 C251,179 284,150 300,120 C316,90 325,37 330,20" fill="none" stroke="#4fb8c0" stroke-width="9" opacity="0.75" stroke-linecap="round" filter="url(#b1)"/>
<path d="M420,900 C433,882 477,825 500,790 C523,755 546,723 560,690 C574,657 585,620 585,590 C585,560 571,530 560,510 C549,490 534,472 520,470 C506,468 485,485 475,500 C465,515 462,537 460,560 C458,583 464,627 465,640" fill="none" stroke="#4fb8c0" stroke-width="9" opacity="0.85" stroke-linecap="round" filter="url(#b1)"/>
<path d="M600,235 C587,242 545,261 520,280 C495,299 472,322 450,350 C428,378 407,415 390,450 C373,485 357,542 350,560" fill="none" stroke="#4fb8c0" stroke-width="9" opacity="0.7" stroke-linecap="round" filter="url(#b1)"/>
<path d="M650,20 C657,37 672,90 690,120 C708,150 738,177 760,200 C782,223 810,250 820,260" fill="none" stroke="#4fb8c0" stroke-width="9" opacity="0.65" stroke-linecap="round" filter="url(#b1)"/>
<path d="M840,380 C853,375 895,355 920,350 C945,345 978,350 990,350" fill="none" stroke="#a05060" stroke-width="7" opacity="0.45" stroke-linecap="round" filter="url(#b1)"/>
<path d="M900,680 C917,693 968,730 1000,760 C1032,790 1057,823 1090,860 C1123,897 1182,960 1200,980" fill="none" stroke="#4fb8c0" stroke-width="9" opacity="0.7" stroke-linecap="round" filter="url(#b1)"/>
<path d="M820,830 C833,838 872,858 900,880 C928,902 960,930 990,960 C1020,990 1045,1028 1080,1060 C1115,1092 1180,1135 1200,1150" fill="none" stroke="#4fb8c0" stroke-width="9" opacity="0.7" stroke-linecap="round" filter="url(#b1)"/>
<path d="M560,1000 C550,1013 522,1050 500,1080 C478,1110 450,1146 430,1180 C410,1214 388,1266 380,1283" fill="none" stroke="#4fb8c0" stroke-width="9" opacity="0.65" stroke-linecap="round" filter="url(#b1)"/>
<path d="M1060,5 C1078,-8 1127,-1 1150,5 C1173,11 1192,-9 1200,40 C1208,89 1212,262 1200,300 C1188,338 1153,274 1130,265 C1107,256 1083,248 1060,245 C1037,242 1002,258 990,250 C978,242 982,220 985,200 C988,180 1000,150 1010,130 C1020,110 1037,101 1045,80 C1053,59 1042,18 1060,5 Z" fill="#ff1212" opacity="1" filter="url(#b1)"/>
<path d="M615,228 C627,225 676,230 700,245 C724,260 740,292 760,320 C780,348 803,382 820,410 C837,438 850,460 860,490 C870,520 872,560 880,590 C888,620 893,642 905,670 C917,698 949,733 950,755 C951,777 928,789 910,800 C892,811 858,807 840,820 C822,833 811,852 805,880 C799,908 811,966 805,990 C799,1014 788,1023 770,1025 C752,1027 716,1016 700,1000 C684,984 677,957 675,930 C673,903 680,868 690,840 C700,812 722,790 735,760 C748,730 759,693 765,660 C771,627 772,590 770,560 C768,530 759,507 750,480 C741,453 728,427 715,400 C702,373 684,342 670,320 C656,298 639,280 630,265 C621,250 603,231 615,228 Z" fill="#ff1212" opacity="1" filter="url(#b1)"/>
<path d="M520,828 C541,826 568,835 575,850 C582,865 574,899 560,920 C546,941 515,953 490,975 C465,997 434,1025 410,1050 C386,1075 363,1099 345,1125 C327,1151 313,1180 300,1205 C287,1230 281,1263 265,1275 C249,1287 216,1291 205,1275 C194,1259 197,1211 200,1180 C203,1149 211,1120 225,1090 C239,1060 262,1027 285,1000 C308,973 332,952 360,930 C388,908 423,882 450,865 C477,848 499,830 520,828 Z" fill="#ff1212" opacity="1" filter="url(#b1)"/>
<path d="M150,455 C165,453 176,462 178,480 C180,498 176,538 165,560 C154,582 130,596 110,615 C90,634 60,667 45,672 C30,677 19,666 18,645 C17,624 26,571 38,545 C50,519 71,505 90,490 C109,475 135,457 150,455 Z" fill="#ff1212" opacity="1" filter="url(#b1)"/>
<ellipse cx="760" cy="340" rx="16" ry="12.8" fill="#22f022" transform="rotate(0 760 340)" filter="url(#b1)"/>
<ellipse cx="400" cy="855" rx="18" ry="14.4" fill="#22f022" transform="rotate(0 400 855)" filter="url(#b1)"/>
<ellipse cx="365" cy="945" rx="18" ry="14.4" fill="#22f022" transform="rotate(0 365 945)" filter="url(#b1)"/>
<ellipse cx="230" cy="1085" rx="12" ry="9.600000000000001" fill="#22f022" transform="rotate(0 230 1085)" filter="url(#b1)"/>
<ellipse cx="60" cy="530" rx="20" ry="16.0" fill="#f8ff90" transform="rotate(0 60 530)" filter="url(#b1)"/>
<ellipse cx="145" cy="462" rx="14" ry="11.200000000000001" fill="#22f022" transform="rotate(0 145 462)" filter="url(#b1)"/>
<ellipse cx="785" cy="700" rx="14" ry="11.200000000000001" fill="#ffff00" transform="rotate(0 785 700)" filter="url(#b1)"/>
<ellipse cx="890" cy="700" rx="14" ry="11.200000000000001" fill="#ffff00" transform="rotate(0 890 700)" filter="url(#b1)"/>
<ellipse cx="915" cy="740" rx="16" ry="12.8" fill="#ffff00" transform="rotate(0 915 740)" filter="url(#b1)"/>
<ellipse cx="755" cy="850" rx="14" ry="11.200000000000001" fill="#ffff00" transform="rotate(0 755 850)" filter="url(#b1)"/>
<ellipse cx="350" cy="1045" rx="14" ry="11.200000000000001" fill="#ffff00" transform="rotate(0 350 1045)" filter="url(#b1)"/>
<ellipse cx="500" cy="895" rx="12" ry="9.600000000000001" fill="#ffff00" transform="rotate(0 500 895)" filter="url(#b1)"/>
<ellipse cx="520" cy="855" rx="12" ry="9.600000000000001" fill="#ffff00" transform="rotate(0 520 855)" filter="url(#b1)"/>
<ellipse cx="440" cy="950" rx="12" ry="9.600000000000001" fill="#ffff00" transform="rotate(0 440 950)" filter="url(#b1)"/>
<ellipse cx="245" cy="1110" rx="10" ry="8.0" fill="#ffff00" transform="rotate(0 245 1110)" filter="url(#b1)"/>
<ellipse cx="100" cy="500" rx="12" ry="9.600000000000001" fill="#ffff00" transform="rotate(0 100 500)" filter="url(#b1)"/>
<ellipse cx="60" cy="580" rx="10" ry="8.0" fill="#ffff00" transform="rotate(0 60 580)" filter="url(#b1)"/>
<rect x="985" y="1240" width="175" height="18" fill="#fff"/>
<text x="1065" y="1213" font-size="70" fill="#fff" text-anchor="middle" textLength="197" lengthAdjust="spacingAndGlyphs">10 µm</text>
</g></g>
<clipPath id="clip2"><rect x="254.00" y="405.70" width="230.50" height="245.30"/></clipPath>
<g clip-path="url(#clip2)">
<rect x="254.00" y="405.70" width="230.50" height="245.30" fill="#000" stroke="none" stroke-width="1" />
<g transform="translate(254.00,405.70) scale(0.19208,0.19252)">
<path d="M130,30 C147,47 318,67 400,110 C482,153 560,252 620,290 C680,328 718,332 760,340 C802,348 830,367 870,340 C910,313 962,227 1000,180 C1038,133 1067,83 1100,60 C1133,37 1183,50 1200,40 C1217,30 1225,3 1200,0 C1175,-3 1092,0 1050,20 C1008,40 978,90 950,120 C922,150 912,182 880,200 C848,218 813,235 760,230 C707,225 617,198 560,170 C503,142 463,87 420,60 C377,33 348,15 300,10 C252,5 113,13 130,30 Z" fill="#0c3236" opacity="0.9" filter="url(#b3)"/>
<path d="M20,0 C32,-33 78,-50 100,0 C122,50 138,200 150,300 C162,400 153,523 170,600 C187,677 212,713 250,760 C288,807 355,830 400,880 C445,930 483,993 520,1060 C557,1127 637,1246 620,1283 C603,1320 468,1317 420,1283 C372,1249 362,1144 330,1080 C298,1016 265,960 230,900 C195,840 150,787 120,720 C90,653 65,587 50,500 C35,413 35,283 30,200 C25,117 8,33 20,0 Z" fill="#0c3236" opacity="0.9" filter="url(#b3)"/>
<path d="M360,510 C390,495 503,525 560,560 C617,595 650,673 700,720 C750,767 807,800 860,840 C913,880 982,917 1020,960 C1058,1003 1077,1046 1090,1100 C1103,1154 1135,1252 1100,1283 C1065,1314 922,1305 880,1283 C838,1261 863,1190 850,1150 C837,1110 825,1072 800,1040 C775,1008 733,987 700,960 C667,933 637,913 600,880 C563,847 517,798 480,760 C443,722 400,692 380,650 C360,608 330,525 360,510 Z" fill="#0c3236" opacity="0.9" filter="url(#b3)"/>
<path d="M870,480 C873,460 945,460 1000,440 C1055,420 1167,317 1200,360 C1233,403 1217,660 1200,700 C1183,740 1137,623 1100,600 C1063,577 1018,580 980,560 C942,540 867,500 870,480 Z" fill="#0c3236" opacity="0.9" filter="url(#b3)"/>
<path d="M20,0 C22,33 30,130 35,200 C40,270 42,352 50,420 C58,488 70,558 85,610 C100,662 119,692 140,730 C161,768 189,807 210,840 C231,873 248,900 265,930 C282,960 297,988 310,1020 C323,1052 335,1076 345,1120 C355,1164 366,1256 370,1283" fill="none" stroke="#5ccad2" stroke-width="11" opacity="1" stroke-linecap="round" filter="url(#b1)"/>
<path d="M150,520 C152,537 152,587 165,620 C178,653 202,690 230,720 C258,750 302,773 330,800 C358,827 378,853 400,880 C422,907 440,930 460,960 C480,990 499,1025 520,1060 C541,1095 565,1133 585,1170 C605,1207 631,1264 640,1283" fill="none" stroke="#5ccad2" stroke-width="11" opacity="1" stroke-linecap="round" filter="url(#b1)"/>
<path d="M630,620 C618,610 587,580 560,560 C533,540 498,512 470,500 C442,488 411,487 390,490 C369,493 352,505 345,520 C338,535 338,560 350,580 C362,600 392,622 420,640 C448,658 488,678 520,690 C552,702 582,700 610,710 C638,720 663,737 690,750 C717,763 743,778 770,790 C797,802 825,805 850,820 C875,835 897,862 920,880 C943,898 969,913 990,930 C1011,947 1032,957 1045,980 C1058,1003 1057,1040 1065,1070 C1073,1100 1088,1128 1095,1160 C1102,1192 1108,1243 1110,1260" fill="none" stroke="#5ccad2" stroke-width="11" opacity="1" stroke-linecap="round" filter="url(#b1)"/>
<path d="M420,140 C433,152 475,191 500,210 C525,229 545,241 570,255 C595,269 625,282 650,295 C675,308 708,324 720,330" fill="none" stroke="#4fb8c0" stroke-width="10" opacity="0.8" stroke-linecap="round" filter="url(#b1)"/>
<path d="M380,100 C392,110 430,145 450,160 C470,175 475,182 500,190 C525,198 567,204 600,205 C633,206 670,193 700,195 C730,197 753,209 780,215 C807,221 838,231 860,230 C882,229 897,223 910,210 C923,197 927,168 940,150 C953,132 970,118 990,100 C1010,82 1038,53 1060,40 C1082,27 1097,25 1120,20 C1143,15 1187,12 1200,10" fill="none" stroke="#5ccad2" stroke-width="11" opacity="1" stroke-linecap="round" filter="url(#b1)"/>
<path d="M870,345 C883,336 922,311 950,290 C978,269 1012,243 1040,220 C1068,197 1093,172 1120,150 C1147,128 1187,100 1200,90" fill="none" stroke="#5ccad2" stroke-width="11" opacity="1" stroke-linecap="round" filter="url(#b1)"/>
<path d="M900,490 C917,484 967,467 1000,455 C1033,443 1067,432 1100,420 C1133,408 1183,391 1200,385" fill="none" stroke="#4fb8c0" stroke-width="8" opacity="0.6" stroke-linecap="round" filter="url(#b1)"/>
<path d="M1100,600 C1108,613 1133,655 1150,680 C1167,705 1192,738 1200,750" fill="none" stroke="#4fb8c0" stroke-width="8" opacity="0.6" stroke-linecap="round" filter="url(#b1)"/>
<path d="M130,10 C150,15 213,27 250,40 C287,53 333,82 350,90" fill="none" stroke="#4fb8c0" stroke-width="8" opacity="0.6" stroke-linecap="round" filter="url(#b1)"/>
<path d="M60,10 C78,12 118,8 130,20 C142,32 118,67 130,80 C142,93 172,95 200,100 C228,105 285,102 300,110 C315,118 305,137 290,150 C275,163 222,172 210,190 C198,208 208,237 220,260 C232,283 268,307 280,330 C292,353 297,382 290,400 C283,418 258,428 240,440 C222,452 193,458 180,470 C167,482 168,510 160,510 C152,510 137,492 130,470 C123,448 122,408 120,380 C118,352 122,327 120,300 C118,273 113,245 110,220 C107,195 107,172 100,150 C93,128 80,108 70,90 C60,72 48,53 40,40 C32,27 17,15 20,10 C23,5 42,8 60,10 Z" fill="#ff1212" opacity="1" filter="url(#b1)"/>
<path d="M660,190 C668,183 703,190 720,200 C737,210 747,232 760,250 C773,268 783,293 800,310 C817,327 845,332 860,350 C875,368 887,400 890,420 C893,440 868,465 880,470 C892,475 947,450 960,450 C973,450 975,462 960,470 C945,478 890,485 870,500 C850,515 852,543 840,560 C828,577 810,580 800,600 C790,620 782,653 780,680 C778,707 793,743 790,760 C787,777 775,783 760,780 C745,777 718,753 700,740 C682,727 663,715 650,700 C637,685 627,667 620,650 C613,633 600,613 610,600 C620,587 658,580 680,570 C702,560 730,555 740,540 C750,525 742,500 740,480 C738,460 730,440 730,420 C730,400 745,380 740,360 C735,340 712,320 700,300 C688,280 677,258 670,240 C663,222 652,197 660,190 Z" fill="#ff1212" opacity="1" filter="url(#b1)"/>
<path d="M720,780 C732,777 758,773 780,790 C802,807 837,852 850,880 C863,908 862,942 860,960 C858,978 850,997 840,990 C830,983 815,942 800,920 C785,898 765,878 750,860 C735,842 715,823 710,810 C705,797 708,783 720,780 Z" fill="#ff1212" opacity="1" filter="url(#b1)"/>
<path d="M1000,1060 C1012,1055 1047,1055 1060,1070 C1073,1085 1075,1114 1080,1150 C1085,1186 1097,1261 1090,1283 C1083,1305 1053,1297 1040,1283 C1027,1269 1018,1230 1010,1200 C1002,1170 992,1123 990,1100 C988,1077 988,1065 1000,1060 Z" fill="#ff1212" opacity="1" filter="url(#b1)"/>
<path d="M780,400 C791,392 825,400 835,410 C845,420 846,448 840,460 C834,472 812,485 800,485 C788,485 773,474 770,460 C767,446 769,408 780,400 Z" fill="#9a0c0c" opacity="1" filter="url(#b1)"/>
<ellipse cx="1170" cy="440" rx="16" ry="12.8" fill="#22f022" transform="rotate(0 1170 440)" filter="url(#b1)"/>
<ellipse cx="780" cy="545" rx="10" ry="8.0" fill="#ffff00" transform="rotate(0 780 545)" filter="url(#b1)"/>
<rect x="1005" y="1240" width="175" height="18" fill="#fff"/>
<text x="1075" y="1213" font-size="70" fill="#fff" text-anchor="middle" textLength="197" lengthAdjust="spacingAndGlyphs">10 µm</text>
</g></g>
<clipPath id="clip3"><rect x="490.30" y="405.70" width="230.40" height="245.30"/></clipPath>
<g clip-path="url(#clip3)">
<rect x="490.30" y="405.70" width="230.40" height="245.30" fill="#000" stroke="none" stroke-width="1" />
<g transform="translate(490.30,405.70) scale(0.19200,0.19252)">
<path d="M0,200 C20,135 80,230 120,260 C160,290 205,337 240,380 C275,423 313,475 330,520 C347,565 325,610 340,650 C355,690 387,725 420,760 C453,795 510,828 540,860 C570,892 597,927 600,950 C603,973 590,998 560,1000 C530,1002 463,977 420,960 C377,943 340,927 300,900 C260,873 220,833 180,800 C140,767 90,725 60,700 C30,675 10,733 0,650 C-10,567 -20,265 0,200 Z" fill="#0c3232" opacity="0.85" filter="url(#b3)"/>
<path d="M0,780 C20,710 77,830 120,860 C163,890 213,930 260,960 C307,990 357,1013 400,1040 C443,1067 483,1093 520,1120 C557,1147 598,1173 620,1200 C642,1227 753,1269 650,1283 C547,1297 108,1367 0,1283 C-108,1199 -20,850 0,780 Z" fill="#0c3232" opacity="0.85" filter="url(#b3)"/>
<path d="M80,0 C100,-33 243,-30 300,0 C357,30 390,130 420,180 C450,230 450,258 480,300 C510,342 563,393 600,430 C637,467 658,492 700,520 C742,548 800,573 850,600 C900,627 942,653 1000,680 C1058,707 1167,707 1200,760 C1233,813 1225,977 1200,1000 C1175,1023 1108,923 1050,900 C992,877 908,883 850,860 C792,837 738,800 700,760 C662,720 643,660 620,620 C597,580 593,557 560,520 C527,483 463,437 420,400 C377,363 340,333 300,300 C260,267 217,250 180,200 C143,150 60,33 80,0 Z" fill="#0c3232" opacity="0.85" filter="url(#b3)"/>
<path d="M250,0 C250,-20 425,-17 500,0 C575,17 633,63 700,100 C767,137 833,190 900,220 C967,250 1050,270 1100,280 C1150,290 1183,257 1200,280 C1217,303 1233,403 1200,420 C1167,437 1058,400 1000,380 C942,360 900,325 850,300 C800,275 758,260 700,230 C642,200 575,158 500,120 C425,82 250,20 250,0 Z" fill="#0c3232" opacity="0.85" filter="url(#b3)"/>
<path d="M700,1000 C715,975 800,1000 850,1000 C900,1000 942,983 1000,1000 C1058,1017 1167,1053 1200,1100 C1233,1147 1267,1252 1200,1283 C1133,1314 873,1305 800,1283 C727,1261 777,1197 760,1150 C743,1103 685,1025 700,1000 Z" fill="#0c3232" opacity="0.85" filter="url(#b3)"/>
<path d="M80,10 C90,28 113,85 140,120 C167,155 200,185 240,220 C280,255 343,300 380,330 C417,360 447,388 460,400" fill="none" stroke="#4fb8c0" stroke-width="9" opacity="0.8" stroke-linecap="round" filter="url(#b1)"/>
<path d="M0,230 C17,242 67,272 100,300 C133,328 168,370 200,400 C232,430 268,457 290,480 C312,503 323,517 330,540 C337,563 320,593 330,620 C340,647 367,675 390,700 C413,725 457,758 470,770" fill="none" stroke="#4fb8c0" stroke-width="9" opacity="0.8" stroke-linecap="round" filter="url(#b1)"/>
<path d="M0,420 C17,437 67,497 100,520 C133,543 170,540 200,560 C230,580 258,617 280,640 C302,663 310,673 330,700 C350,727 372,772 400,800 C428,828 473,848 500,870 C527,892 550,920 560,930" fill="none" stroke="#4fb8c0" stroke-width="9" opacity="0.8" stroke-linecap="round" filter="url(#b1)"/>
<path d="M0,780 C13,793 47,832 80,860 C113,888 163,927 200,950 C237,973 267,983 300,1000 C333,1017 367,1033 400,1050 C433,1067 467,1075 500,1100 C533,1125 577,1170 600,1200 C623,1230 633,1269 640,1283" fill="none" stroke="#4fb8c0" stroke-width="9" opacity="0.8" stroke-linecap="round" filter="url(#b1)"/>
<path d="M250,20 C258,33 272,73 300,100 C328,127 400,167 420,180" fill="none" stroke="#4fb8c0" stroke-width="9" opacity="0.8" stroke-linecap="round" filter="url(#b1)"/>
<path d="M600,520 C610,533 643,573 660,600 C677,627 690,660 700,680 C710,700 717,713 720,720" fill="none" stroke="#4fb8c0" stroke-width="9" opacity="0.8" stroke-linecap="round" filter="url(#b1)"/>
<path d="M620,460 C633,470 670,500 700,520 C730,540 767,558 800,580 C833,602 867,630 900,650 C933,670 967,682 1000,700 C1033,718 1067,743 1100,760 C1133,777 1183,793 1200,800" fill="none" stroke="#4fb8c0" stroke-width="9" opacity="0.8" stroke-linecap="round" filter="url(#b1)"/>
<path d="M700,1050 C710,1067 743,1111 760,1150 C777,1189 793,1261 800,1283" fill="none" stroke="#4fb8c0" stroke-width="9" opacity="0.8" stroke-linecap="round" filter="url(#b1)"/>
<path d="M1000,880 C1017,892 1070,922 1100,950 C1130,978 1167,1033 1180,1050" fill="none" stroke="#4fb8c0" stroke-width="9" opacity="0.8" stroke-linecap="round" filter="url(#b1)"/>
<path d="M860,280 C875,290 918,323 950,340 C982,357 1017,370 1050,380 C1083,390 1125,393 1150,400 C1175,407 1192,417 1200,420" fill="none" stroke="#4fb8c0" stroke-width="9" opacity="0.8" stroke-linecap="round" filter="url(#b1)"/>
<path d="M900,240 C917,248 967,280 1000,290 C1033,300 1067,300 1100,300 C1133,300 1183,292 1200,290" fill="none" stroke="#4fb8c0" stroke-width="9" opacity="0.8" stroke-linecap="round" filter="url(#b1)"/>
<path d="M740,30 C760,25 833,15 860,20 C887,25 892,38 900,60 C908,82 903,125 910,150 C917,175 927,193 940,210 C953,227 987,242 990,250 C993,258 975,263 960,260 C945,257 915,243 900,230 C885,217 883,197 870,180 C857,163 837,145 820,130 C803,115 783,103 770,90 C757,77 745,60 740,50 C735,40 720,35 740,30 Z" fill="#ff1212" opacity="1" filter="url(#b1)"/>
<path d="M420,180 C423,163 455,160 470,170 C485,180 497,218 510,240 C523,262 537,278 550,300 C563,322 578,347 590,370 C602,393 615,413 620,440 C625,467 630,520 620,530 C610,540 583,508 560,500 C537,492 498,488 480,480 C462,472 460,463 450,450 C440,437 423,420 420,400 C417,380 425,352 430,330 C435,308 452,295 450,270 C448,245 417,197 420,180 Z" fill="#ff1212" opacity="1" filter="url(#b1)"/>
<path d="M470,780 C475,775 530,798 560,800 C590,802 627,797 650,790 C673,783 678,768 700,760 C722,752 755,740 780,740 C805,740 827,752 850,760 C873,768 897,778 920,790 C943,802 990,822 990,830 C990,838 943,842 920,840 C897,838 867,817 850,820 C833,823 825,843 820,860 C815,877 825,900 820,920 C815,940 797,960 790,980 C783,1000 777,1020 780,1040 C783,1060 798,1082 810,1100 C822,1118 842,1133 850,1150 C858,1167 863,1193 860,1200 C857,1207 842,1203 830,1190 C818,1177 803,1142 790,1120 C777,1098 762,1075 750,1060 C738,1045 737,1040 720,1030 C703,1020 673,1007 650,1000 C627,993 595,998 580,990 C565,982 558,965 560,950 C562,935 587,915 590,900 C593,885 590,872 580,860 C570,848 548,843 530,830 C512,817 465,785 470,780 Z" fill="#ff1212" opacity="1" filter="url(#b1)"/>
<path d="M60,1150 C70,1130 98,1113 120,1110 C142,1107 172,1115 190,1130 C208,1145 218,1174 230,1200 C242,1226 285,1269 260,1283 C235,1297 113,1292 80,1283 C47,1274 63,1252 60,1230 C57,1208 50,1170 60,1150 Z" fill="#ff1212" opacity="1" filter="url(#b1)"/>
<path d="M400,1170 C405,1160 433,1162 450,1170 C467,1178 487,1201 500,1220 C513,1239 535,1272 530,1283 C525,1294 488,1292 470,1283 C452,1274 432,1249 420,1230 C408,1211 395,1180 400,1170 Z" fill="#ff1212" opacity="1" filter="url(#b1)"/>
<ellipse cx="720" cy="910" rx="65" ry="55" fill="#ffe020" filter="url(#b2)"/>
<ellipse cx="460" cy="320" rx="18" ry="14.4" fill="#ffff00" transform="rotate(0 460 320)" filter="url(#b1)"/>
<ellipse cx="510" cy="310" rx="18" ry="14.4" fill="#ffff00" transform="rotate(0 510 310)" filter="url(#b1)"/>
<ellipse cx="440" cy="330" rx="14" ry="11.200000000000001" fill="#22f022" transform="rotate(0 440 330)" filter="url(#b1)"/>
<ellipse cx="530" cy="400" rx="16" ry="12.8" fill="#22f022" transform="rotate(0 530 400)" filter="url(#b1)"/>
<ellipse cx="465" cy="400" rx="12" ry="9.600000000000001" fill="#22f022" transform="rotate(0 465 400)" filter="url(#b1)"/>
<ellipse cx="570" cy="460" rx="20" ry="16.0" fill="#22f022" transform="rotate(0 570 460)" filter="url(#b1)"/>
<ellipse cx="850" cy="70" rx="18" ry="14.4" fill="#ffff00" transform="rotate(0 850 70)" filter="url(#b1)"/>
<ellipse cx="825" cy="95" rx="14" ry="11.200000000000001" fill="#ffff00" transform="rotate(0 825 95)" filter="url(#b1)"/>
<ellipse cx="740" cy="700" rx="20" ry="16.0" fill="#22f022" transform="rotate(0 740 700)" filter="url(#b1)"/>
<ellipse cx="765" cy="740" rx="20" ry="16.0" fill="#22f022" transform="rotate(0 765 740)" filter="url(#b1)"/>
<ellipse cx="810" cy="730" rx="18" ry="14.4" fill="#22f022" transform="rotate(0 810 730)" filter="url(#b1)"/>
<ellipse cx="890" cy="800" rx="16" ry="12.8" fill="#ffff00" transform="rotate(0 890 800)" filter="url(#b1)"/>
<ellipse cx="560" cy="830" rx="16" ry="12.8" fill="#ffff00" transform="rotate(0 560 830)" filter="url(#b1)"/>
<ellipse cx="640" cy="915" rx="14" ry="11.200000000000001" fill="#22f022" transform="rotate(0 640 915)" filter="url(#b1)"/>
<ellipse cx="750" cy="1000" rx="18" ry="14.4" fill="#ffff00" transform="rotate(0 750 1000)" filter="url(#b1)"/>
<ellipse cx="150" cy="1090" rx="22" ry="17.6" fill="#22f022" transform="rotate(0 150 1090)" filter="url(#b1)"/>
<ellipse cx="150" cy="1180" rx="20" ry="16.0" fill="#ffff00" transform="rotate(0 150 1180)" filter="url(#b1)"/>
<ellipse cx="210" cy="1190" rx="18" ry="14.4" fill="#22f022" transform="rotate(0 210 1190)" filter="url(#b1)"/>
<ellipse cx="180" cy="1230" rx="14" ry="11.200000000000001" fill="#ffff00" transform="rotate(0 180 1230)" filter="url(#b1)"/>
<ellipse cx="410" cy="1180" rx="18" ry="14.4" fill="#22f022" transform="rotate(0 410 1180)" filter="url(#b1)"/>
<ellipse cx="480" cy="1225" rx="18" ry="14.4" fill="#ffff00" transform="rotate(0 480 1225)" filter="url(#b1)"/>
<rect x="995" y="1240" width="180" height="18" fill="#fff"/>
<text x="1070" y="1213" font-size="70" fill="#fff" text-anchor="middle" textLength="197" lengthAdjust="spacingAndGlyphs">10 µm</text>
</g></g>
<clipPath id="clip4"><rect x="726.50" y="405.70" width="231.70" height="245.30"/></clipPath>
<g clip-path="url(#clip4)">
<rect x="726.50" y="405.70" width="231.70" height="245.30" fill="#000" stroke="none" stroke-width="1" />
<g transform="translate(726.50,405.70) scale(0.19308,0.19327)">
<path d="M0,0 C75,-33 370,-33 450,0 C530,33 488,152 480,200 C472,248 430,273 400,290 C370,307 333,303 300,300 C267,297 228,278 200,270 C172,262 153,262 130,250 C107,238 82,208 60,200 C38,192 10,233 0,200 C-10,167 -75,33 0,0 Z" fill="#0d3034" opacity="0.8" filter="url(#b3)"/>
<path d="M480,0 C498,-50 610,-33 650,0 C690,33 695,150 720,200 C745,250 800,263 800,300 C800,337 738,377 720,420 C702,463 697,505 690,560 C683,615 687,693 680,750 C673,807 670,865 650,900 C630,935 575,993 560,960 C545,927 560,777 560,700 C560,623 563,567 560,500 C557,433 553,383 540,300 C527,217 462,50 480,0 Z" fill="#0d3034" opacity="0.8" filter="url(#b3)"/>
<path d="M0,1000 C17,973 50,1043 100,1040 C150,1037 233,997 300,980 C367,963 447,953 500,940 C553,927 587,890 620,900 C653,910 695,973 700,1000 C705,1027 683,1050 650,1060 C617,1070 558,1053 500,1060 C442,1067 367,1082 300,1100 C233,1118 150,1153 100,1170 C50,1187 17,1228 0,1200 C-17,1172 -17,1027 0,1000 Z" fill="#0d3034" opacity="0.8" filter="url(#b3)"/>
<path d="M800,300 C817,270 933,297 1000,300 C1067,303 1167,287 1200,320 C1233,353 1217,467 1200,500 C1183,533 1150,523 1100,520 C1050,517 950,517 900,480 C850,443 783,330 800,300 Z" fill="#0d3034" opacity="0.8" filter="url(#b3)"/>
<path d="M1100,520 C1108,478 1183,437 1200,500 C1217,563 1208,858 1200,900 C1192,942 1167,813 1150,750 C1133,687 1092,562 1100,520 Z" fill="#0d3034" opacity="0.8" filter="url(#b3)"/>
<path d="M0,190 C10,180 38,152 60,130 C82,108 107,78 130,60 C153,42 188,27 200,20" fill="none" stroke="#4fb8c0" stroke-width="10" opacity="0.85" stroke-linecap="round" filter="url(#b1)"/>
<path d="M130,250 C145,252 192,253 220,260 C248,267 273,285 300,290 C327,295 357,298 380,290 C403,282 423,258 440,240 C457,222 473,205 480,180 C487,155 480,120 480,90 C480,60 480,15 480,0" fill="none" stroke="#4fb8c0" stroke-width="10" opacity="0.85" stroke-linecap="round" filter="url(#b1)"/>
<path d="M640,0 C650,13 687,50 700,80 C713,110 710,147 720,180 C730,213 740,260 760,280 C780,300 808,295 840,300 C872,305 915,310 950,310 C985,310 1017,297 1050,300 C1083,303 1125,323 1150,330 C1175,337 1192,338 1200,340" fill="none" stroke="#4fb8c0" stroke-width="10" opacity="0.85" stroke-linecap="round" filter="url(#b1)"/>
<path d="M650,400 C650,433 653,542 650,600 C647,658 642,708 630,750 C618,792 597,825 580,850 C563,875 557,885 530,900 C503,915 458,928 420,940 C382,952 337,960 300,970 C263,980 233,990 200,1000 C167,1010 130,1030 100,1030 C70,1030 37,1013 20,1000 C3,987 3,958 0,950" fill="none" stroke="#4fb8c0" stroke-width="10" opacity="0.85" stroke-linecap="round" filter="url(#b1)"/>
<path d="M0,1180 C17,1175 58,1163 100,1150 C142,1137 200,1112 250,1100 C300,1088 358,1090 400,1080 C442,1070 467,1050 500,1040 C533,1030 570,1020 600,1020 C630,1020 667,1037 680,1040" fill="none" stroke="#4fb8c0" stroke-width="10" opacity="0.85" stroke-linecap="round" filter="url(#b1)"/>
<path d="M1100,530 C1108,550 1135,605 1150,650 C1165,695 1183,775 1190,800" fill="none" stroke="#4fb8c0" stroke-width="10" opacity="0.85" stroke-linecap="round" filter="url(#b1)"/>
<path d="M20,660 C18,683 10,752 10,800 C10,848 18,925 20,950" fill="none" stroke="#4fb8c0" stroke-width="10" opacity="0.85" stroke-linecap="round" filter="url(#b1)"/>
<path d="M10,290 C20,288 72,288 100,310 C128,332 158,397 180,420 C202,443 210,442 230,450 C250,458 275,482 300,470 C325,458 360,407 380,380 C400,353 405,327 420,310 C435,293 450,290 470,280 C490,270 525,248 540,250 C555,252 570,277 560,290 C550,303 498,315 480,330 C462,345 457,360 450,380 C443,400 435,427 440,450 C445,473 460,508 480,520 C500,532 550,513 560,520 C570,527 553,547 540,560 C527,573 498,590 480,600 C462,610 447,620 430,620 C413,620 398,597 380,600 C362,603 337,627 320,640 C303,653 292,678 280,680 C268,682 263,670 250,650 C237,630 222,565 200,560 C178,555 147,603 120,620 C93,637 60,653 40,660 C20,667 7,677 0,660 C-7,643 -13,583 0,560 C13,537 53,535 80,520 C107,505 157,493 160,470 C163,447 120,405 100,380 C80,355 55,335 40,320 C25,305 0,292 10,290 Z" fill="#ff1212" opacity="0.85" filter="url(#b1)"/>
<path d="M580,20 C592,8 623,13 630,30 C637,47 628,97 620,120 C612,143 593,160 580,170 C567,180 543,192 540,180 C537,168 553,127 560,100 C567,73 568,32 580,20 Z" fill="#ff1212" opacity="1" filter="url(#b1)"/>
<path d="M700,400 C712,387 753,400 780,400 C807,400 832,398 860,400 C888,402 918,417 950,410 C982,403 1022,372 1050,360 C1078,348 1097,342 1120,340 C1143,338 1185,337 1190,350 C1195,363 1165,397 1150,420 C1135,443 1117,487 1100,490 C1083,493 1075,448 1050,440 C1025,432 978,435 950,440 C922,445 902,455 880,470 C858,485 835,510 820,530 C805,550 805,585 790,590 C775,595 743,578 730,560 C717,542 715,507 710,480 C705,453 688,413 700,400 Z" fill="#ff1212" opacity="1" filter="url(#b1)"/>
<path d="M700,700 C718,680 778,687 800,700 C822,713 832,747 830,780 C828,813 798,863 790,900 C782,937 788,980 780,1000 C772,1020 757,1027 740,1020 C723,1013 695,980 680,960 C665,940 648,923 650,900 C652,877 682,853 690,820 C698,787 682,720 700,700 Z" fill="#ff1212" opacity="1" filter="url(#b1)"/>
<path d="M700,1030 C708,1030 740,1060 760,1080 C780,1100 805,1118 820,1150 C835,1182 850,1249 850,1270 C850,1291 832,1298 820,1278 C808,1258 798,1183 780,1150 C762,1117 723,1100 710,1080 C697,1060 692,1030 700,1030 Z" fill="#ff1212" opacity="1" filter="url(#b1)"/>
<path d="M1010,840 C1018,830 1070,820 1100,820 C1130,820 1182,832 1190,840 C1198,848 1173,863 1150,870 C1127,877 1073,885 1050,880 C1027,875 1002,850 1010,840 Z" fill="#ff1212" opacity="1" filter="url(#b1)"/>
<path d="M1030,650 C1037,650 1067,678 1070,690 C1073,702 1057,720 1050,720 C1043,720 1033,702 1030,690 C1027,678 1023,650 1030,650 Z" fill="#ff1212" opacity="1" filter="url(#b1)"/>
<ellipse cx="480" cy="25" rx="14" ry="11.200000000000001" fill="#22f022" transform="rotate(0 480 25)" filter="url(#b1)"/>
<ellipse cx="560" cy="130" rx="22" ry="17.6" fill="#22f022" transform="rotate(0 560 130)" filter="url(#b1)"/>
<ellipse cx="620" cy="90" rx="16" ry="12.8" fill="#22f022" transform="rotate(0 620 90)" filter="url(#b1)"/>
<ellipse cx="510" cy="245" rx="18" ry="14.4" fill="#22f022" transform="rotate(0 510 245)" filter="url(#b1)"/>
<ellipse cx="470" cy="280" rx="12" ry="9.600000000000001" fill="#22f022" transform="rotate(0 470 280)" filter="url(#b1)"/>
<ellipse cx="430" cy="340" rx="16" ry="12.8" fill="#ffff00" transform="rotate(0 430 340)" filter="url(#b1)"/>
<ellipse cx="240" cy="400" rx="16" ry="12.8" fill="#22f022" transform="rotate(0 240 400)" filter="url(#b1)"/>
<ellipse cx="260" cy="460" rx="14" ry="11.200000000000001" fill="#ffff00" transform="rotate(0 260 460)" filter="url(#b1)"/>
<ellipse cx="480" cy="590" rx="14" ry="11.200000000000001" fill="#ffff00" transform="rotate(0 480 590)" filter="url(#b1)"/>
<ellipse cx="330" cy="540" rx="12" ry="9.600000000000001" fill="#ffff00" transform="rotate(0 330 540)" filter="url(#b1)"/>
<ellipse cx="20" cy="610" rx="14" ry="11.200000000000001" fill="#22f022" transform="rotate(0 20 610)" filter="url(#b1)"/>
<ellipse cx="80" cy="600" rx="12" ry="9.600000000000001" fill="#22f022" transform="rotate(0 80 600)" filter="url(#b1)"/>
<ellipse cx="720" cy="400" rx="18" ry="14.4" fill="#22f022" transform="rotate(0 720 400)" filter="url(#b1)"/>
<ellipse cx="770" cy="430" rx="14" ry="11.200000000000001" fill="#ffff00" transform="rotate(0 770 430)" filter="url(#b1)"/>
<ellipse cx="760" cy="520" rx="18" ry="14.4" fill="#ffff00" transform="rotate(0 760 520)" filter="url(#b1)"/>
<ellipse cx="775" cy="575" rx="16" ry="12.8" fill="#22f022" transform="rotate(0 775 575)" filter="url(#b1)"/>
<ellipse cx="1080" cy="370" rx="22" ry="17.6" fill="#22f022" transform="rotate(0 1080 370)" filter="url(#b1)"/>
<ellipse cx="1055" cy="420" rx="16" ry="12.8" fill="#ffff00" transform="rotate(0 1055 420)" filter="url(#b1)"/>
<ellipse cx="1100" cy="460" rx="14" ry="11.200000000000001" fill="#22f022" transform="rotate(0 1100 460)" filter="url(#b1)"/>
<ellipse cx="740" cy="720" rx="20" ry="16.0" fill="#22f022" transform="rotate(0 740 720)" filter="url(#b1)"/>
<ellipse cx="770" cy="770" rx="14" ry="11.200000000000001" fill="#22f022" transform="rotate(0 770 770)" filter="url(#b1)"/>
<ellipse cx="740" cy="860" rx="20" ry="16.0" fill="#ffff00" transform="rotate(0 740 860)" filter="url(#b1)"/>
<ellipse cx="690" cy="890" rx="16" ry="12.8" fill="#22f022" transform="rotate(0 690 890)" filter="url(#b1)"/>
<ellipse cx="705" cy="960" rx="34" ry="27.200000000000003" fill="#22f022" transform="rotate(0 705 960)" filter="url(#b1)"/>
<ellipse cx="770" cy="1090" rx="22" ry="17.6" fill="#22f022" transform="rotate(0 770 1090)" filter="url(#b1)"/>
<ellipse cx="800" cy="1120" rx="16" ry="12.8" fill="#22f022" transform="rotate(0 800 1120)" filter="url(#b1)"/>
<ellipse cx="1065" cy="690" rx="12" ry="9.600000000000001" fill="#22f022" transform="rotate(0 1065 690)" filter="url(#b1)"/>
<ellipse cx="1120" cy="820" rx="12" ry="9.600000000000001" fill="#22f022" transform="rotate(0 1120 820)" filter="url(#b1)"/>
<ellipse cx="850" cy="1250" rx="18" ry="14.4" fill="#22f022" transform="rotate(0 850 1250)" filter="url(#b1)"/>
<ellipse cx="900" cy="1190" rx="12" ry="9.600000000000001" fill="#22f022" transform="rotate(0 900 1190)" filter="url(#b1)"/>
<ellipse cx="650" cy="870" rx="12" ry="9.600000000000001" fill="#22f022" transform="rotate(0 650 870)" filter="url(#b1)"/>
<rect x="985" y="1238" width="180" height="18" fill="#fff"/>
<text x="1065" y="1210" font-size="70" fill="#fff" text-anchor="middle" textLength="197" lengthAdjust="spacingAndGlyphs">10 µm</text>
</g></g>
<clipPath id="clip5"><rect x="24.75" y="746.50" width="225.25" height="305.10"/></clipPath>
<g clip-path="url(#clip5)">
<rect x="24.75" y="746.50" width="225.25" height="305.10" fill="#000" stroke="none" stroke-width="1" />
<g transform="translate(24.75,746.50) scale(0.21932,0.21935)">
<ellipse cx="265" cy="110" rx="65" ry="65" fill="#ff1212" opacity="1" filter="url(#b2)"/>
<ellipse cx="265" cy="215" rx="60" ry="60" fill="#ff1212" opacity="1" filter="url(#b2)"/>
<ellipse cx="260" cy="100" rx="45" ry="45" fill="#ffee30" filter="url(#b2)"/>
<ellipse cx="262" cy="210" rx="40" ry="40" fill="#ffee30" filter="url(#b2)"/>
<path d="M845,250 C853,230 871,232 880,240 C889,248 897,280 900,300 C903,320 892,353 900,360 C908,367 933,337 950,340 C967,343 992,362 1000,380 C1008,398 1010,430 1000,450 C990,470 952,482 940,500 C928,518 927,540 925,560 C923,580 938,602 930,620 C922,638 902,657 880,665 C858,673 825,674 800,668 C775,662 747,648 730,630 C713,612 703,585 700,560 C697,535 698,507 710,480 C722,453 750,420 770,400 C790,380 818,385 830,360 C842,335 837,270 845,250 Z" fill="#ff1212" opacity="1" filter="url(#b1)"/>
<path d="M784,400 C791,389 814,378 830,375 C846,372 869,372 880,380 C891,388 895,408 895,420 C895,432 892,449 880,455 C868,461 835,458 820,455 C805,452 796,449 790,440 C784,431 777,411 784,400 Z" fill="#fff428" filter="url(#b2)"/>
<path d="M892,360 C902,345 942,337 960,340 C978,343 994,363 1000,380 C1006,397 1005,428 995,440 C985,452 956,452 940,450 C924,448 908,445 900,430 C892,415 882,375 892,360 Z" fill="#fff428" filter="url(#b2)"/>
<path d="M824,460 C833,452 864,448 880,450 C896,452 912,460 917,470 C922,480 921,502 910,510 C899,518 864,518 850,515 C836,512 829,504 825,495 C821,486 815,468 824,460 Z" fill="#fff428" filter="url(#b2)"/>
<path d="M691,505 C695,492 714,494 720,500 C726,506 730,527 730,540 C730,553 726,572 720,578 C714,584 700,587 695,575 C690,563 687,518 691,505 Z" fill="#fff428" filter="url(#b2)"/>
<ellipse cx="960" cy="400" rx="22" ry="17.6" fill="#a8f040" transform="rotate(0 960 400)" filter="url(#b1)"/>
<ellipse cx="950" cy="430" rx="18" ry="14.4" fill="#90f030" transform="rotate(0 950 430)" filter="url(#b1)"/>
<ellipse cx="150" cy="690" rx="60" ry="60" fill="none" stroke="#e01010" stroke-width="9" opacity="0.7" filter="url(#b1)"/>
<ellipse cx="230" cy="870" rx="85" ry="85" fill="#7a1010" opacity="0.9" filter="url(#b2)"/>
<ellipse cx="215" cy="1000" rx="58" ry="58" fill="#d81010" opacity="1" filter="url(#b2)"/>
<ellipse cx="100" cy="1010" rx="40" ry="40" fill="#d81010" opacity="1" filter="url(#b2)"/>
<ellipse cx="520" cy="1010" rx="58" ry="58" fill="#ff1212" opacity="1" filter="url(#b2)"/>
<ellipse cx="550" cy="690" rx="42" ry="42" fill="#b01010" opacity="1" filter="url(#b2)"/>
<ellipse cx="590" cy="870" rx="72" ry="72" fill="none" stroke="#b01010" stroke-width="9" opacity="0.7" filter="url(#b1)"/>
<ellipse cx="560" cy="860" rx="50" ry="50" fill="#7a1010" opacity="1" filter="url(#b2)"/>
<ellipse cx="900" cy="950" rx="65" ry="65" fill="#ff1212" opacity="1" filter="url(#b2)"/>
<ellipse cx="950" cy="960" rx="35" ry="35" fill="#ffee30" filter="url(#b2)"/>
<ellipse cx="160" cy="1200" rx="110" ry="110" fill="#b01414" opacity="0.9" filter="url(#b2)"/>
<ellipse cx="200" cy="1190" rx="60" ry="60" fill="#d81010" opacity="1" filter="url(#b2)"/>
<ellipse cx="70" cy="1280" rx="45" ry="45" fill="none" stroke="#e01010" stroke-width="9" opacity="0.6" filter="url(#b1)"/>
<ellipse cx="470" cy="1180" rx="40" ry="40" fill="#600c0c" opacity="1" filter="url(#b2)"/>
<ellipse cx="990" cy="1200" rx="50" ry="50" fill="#800c0c" opacity="1" filter="url(#b2)"/>
<ellipse cx="540" cy="60" rx="16" ry="12.8" fill="#22f022" transform="rotate(0 540 60)" filter="url(#b1)"/>
<ellipse cx="480" cy="245" rx="14" ry="11.200000000000001" fill="#22f022" transform="rotate(0 480 245)" filter="url(#b1)"/>
<ellipse cx="460" cy="295" rx="18" ry="14.4" fill="#22f022" transform="rotate(0 460 295)" filter="url(#b1)"/>
<ellipse cx="160" cy="195" rx="16" ry="12.8" fill="#22f022" transform="rotate(0 160 195)" filter="url(#b1)"/>
<ellipse cx="115" cy="450" rx="20" ry="16.0" fill="#22f022" transform="rotate(0 115 450)" filter="url(#b1)"/>
<ellipse cx="20" cy="440" rx="10" ry="8.0" fill="#22f022" transform="rotate(0 20 440)" filter="url(#b1)"/>
<ellipse cx="245" cy="535" rx="12" ry="9.600000000000001" fill="#22f022" transform="rotate(0 245 535)" filter="url(#b1)"/>
<ellipse cx="540" cy="500" rx="18" ry="14.4" fill="#22f022" transform="rotate(0 540 500)" filter="url(#b1)"/>
<ellipse cx="775" cy="210" rx="18" ry="14.4" fill="#22f022" transform="rotate(0 775 210)" filter="url(#b1)"/>
<ellipse cx="835" cy="270" rx="12" ry="9.600000000000001" fill="#22f022" transform="rotate(0 835 270)" filter="url(#b1)"/>
<ellipse cx="160" cy="660" rx="18" ry="14.4" fill="#22f022" transform="rotate(0 160 660)" filter="url(#b1)"/>
<ellipse cx="140" cy="730" rx="16" ry="12.8" fill="#22f022" transform="rotate(0 140 730)" filter="url(#b1)"/>
<ellipse cx="250" cy="725" rx="20" ry="16.0" fill="#22f022" transform="rotate(0 250 725)" filter="url(#b1)"/>
<ellipse cx="185" cy="765" rx="18" ry="14.4" fill="#22f022" transform="rotate(0 185 765)" filter="url(#b1)"/>
<ellipse cx="350" cy="820" rx="22" ry="17.6" fill="#22f022" transform="rotate(0 350 820)" filter="url(#b1)"/>
<ellipse cx="540" cy="770" rx="18" ry="14.4" fill="#22f022" transform="rotate(0 540 770)" filter="url(#b1)"/>
<ellipse cx="540" cy="810" rx="18" ry="14.4" fill="#22f022" transform="rotate(0 540 810)" filter="url(#b1)"/>
<ellipse cx="660" cy="880" rx="18" ry="14.4" fill="#22f022" transform="rotate(0 660 880)" filter="url(#b1)"/>
<ellipse cx="715" cy="870" rx="18" ry="14.4" fill="#22f022" transform="rotate(0 715 870)" filter="url(#b1)"/>
<ellipse cx="735" cy="915" rx="18" ry="14.4" fill="#22f022" transform="rotate(0 735 915)" filter="url(#b1)"/>
<ellipse cx="740" cy="955" rx="18" ry="14.4" fill="#22f022" transform="rotate(0 740 955)" filter="url(#b1)"/>
<ellipse cx="825" cy="905" rx="20" ry="16.0" fill="#22f022" transform="rotate(0 825 905)" filter="url(#b1)"/>
<ellipse cx="550" cy="945" rx="16" ry="12.8" fill="#22f022" transform="rotate(0 550 945)" filter="url(#b1)"/>
<ellipse cx="300" cy="990" rx="14" ry="11.200000000000001" fill="#22f022" transform="rotate(0 300 990)" filter="url(#b1)"/>
<ellipse cx="310" cy="1025" rx="14" ry="11.200000000000001" fill="#22f022" transform="rotate(0 310 1025)" filter="url(#b1)"/>
<ellipse cx="325" cy="1095" rx="20" ry="16.0" fill="#22f022" transform="rotate(0 325 1095)" filter="url(#b1)"/>
<ellipse cx="480" cy="1165" rx="26" ry="20.8" fill="#22f022" transform="rotate(0 480 1165)" filter="url(#b1)"/>
<ellipse cx="660" cy="1245" rx="22" ry="17.6" fill="#22f022" transform="rotate(0 660 1245)" filter="url(#b1)"/>
<ellipse cx="945" cy="1010" rx="20" ry="16.0" fill="#22f022" transform="rotate(0 945 1010)" filter="url(#b1)"/>
<ellipse cx="100" cy="1165" rx="20" ry="16.0" fill="#22f022" transform="rotate(0 100 1165)" filter="url(#b1)"/>
<ellipse cx="40" cy="1210" rx="18" ry="14.4" fill="#22f022" transform="rotate(0 40 1210)" filter="url(#b1)"/>
<ellipse cx="80" cy="1260" rx="14" ry="11.200000000000001" fill="#22f022" transform="rotate(0 80 1260)" filter="url(#b1)"/>
<ellipse cx="250" cy="1290" rx="14" ry="11.200000000000001" fill="#22f022" transform="rotate(0 250 1290)" filter="url(#b1)"/>
<ellipse cx="60" cy="1370" rx="18" ry="14.4" fill="#22f022" transform="rotate(0 60 1370)" filter="url(#b1)"/>
<ellipse cx="795" cy="10" rx="12" ry="9.600000000000001" fill="#22f022" transform="rotate(0 795 10)" filter="url(#b1)"/>
<ellipse cx="55" cy="55" rx="10" ry="8.0" fill="#22f022" transform="rotate(0 55 55)" filter="url(#b1)"/>
<ellipse cx="10" cy="950" rx="14" ry="11.200000000000001" fill="#22f022" transform="rotate(0 10 950)" filter="url(#b1)"/>
<ellipse cx="285" cy="940" rx="20" ry="16.0" fill="#22f022" transform="rotate(0 285 940)" filter="url(#b1)"/>
<ellipse cx="1000" cy="980" rx="20" ry="16.0" fill="#22f022" transform="rotate(0 1000 980)" filter="url(#b1)"/>
<ellipse cx="1010" cy="1280" rx="14" ry="11.200000000000001" fill="#22f022" transform="rotate(0 1010 1280)" filter="url(#b1)"/>
<ellipse cx="720" cy="530" rx="16" ry="12.8" fill="#22f022" transform="rotate(0 720 530)" filter="url(#b1)"/>
<ellipse cx="920" cy="570" rx="14" ry="11.200000000000001" fill="#22f022" transform="rotate(0 920 570)" filter="url(#b1)"/>
<ellipse cx="150" cy="1250" rx="14" ry="11.200000000000001" fill="#22f022" transform="rotate(0 150 1250)" filter="url(#b1)"/>
<ellipse cx="230" cy="1250" rx="14" ry="11.200000000000001" fill="#22f022" transform="rotate(0 230 1250)" filter="url(#b1)"/>
<ellipse cx="540" cy="1030" rx="14" ry="11.200000000000001" fill="#ffff00" transform="rotate(0 540 1030)" filter="url(#b1)"/>
<ellipse cx="120" cy="1040" rx="12" ry="9.600000000000001" fill="#ffff00" transform="rotate(0 120 1040)" filter="url(#b1)"/>
<ellipse cx="90" cy="1000" rx="12" ry="9.600000000000001" fill="#ffff00" transform="rotate(0 90 1000)" filter="url(#b1)"/>
<ellipse cx="880" cy="440" rx="16" ry="12.8" fill="#ffff00" transform="rotate(0 880 440)" filter="url(#b1)"/>
<ellipse cx="850" cy="490" rx="16" ry="12.8" fill="#ffff00" transform="rotate(0 850 490)" filter="url(#b1)"/>
<ellipse cx="470" cy="778" rx="13.6" ry="7.5" fill="#22f022" transform="rotate(84 470 778)" filter="url(#b1)"/>
<ellipse cx="604" cy="270" rx="11.6" ry="6.4" fill="#22f022" transform="rotate(113 604 270)" filter="url(#b1)"/>
<ellipse cx="114" cy="431" rx="9.5" ry="5.2" fill="#22f022" transform="rotate(146 114 431)" filter="url(#b1)"/>
<ellipse cx="62" cy="1351" rx="13.8" ry="7.6" fill="#22f022" transform="rotate(118 62 1351)" filter="url(#b1)"/>
<ellipse cx="177" cy="40" rx="11.6" ry="6.4" fill="#22f022" transform="rotate(11 177 40)" filter="url(#b1)"/>
<ellipse cx="482" cy="617" rx="13.2" ry="7.3" fill="#22f022" transform="rotate(93 482 617)" filter="url(#b1)"/>
<ellipse cx="517" cy="918" rx="11.3" ry="6.2" fill="#b8f020" transform="rotate(50 517 918)" filter="url(#b1)"/>
<ellipse cx="1011" cy="1158" rx="12.5" ry="6.9" fill="#22f022" transform="rotate(57 1011 1158)" filter="url(#b1)"/>
<ellipse cx="973" cy="1168" rx="9.0" ry="5.0" fill="#b8f020" transform="rotate(38 973 1168)" filter="url(#b1)"/>
<ellipse cx="488" cy="1348" rx="11.0" ry="6.0" fill="#22f022" transform="rotate(13 488 1348)" filter="url(#b1)"/>
<ellipse cx="107" cy="471" rx="13.8" ry="7.6" fill="#22f022" transform="rotate(136 107 471)" filter="url(#b1)"/>
<ellipse cx="80" cy="1100" rx="9.9" ry="5.4" fill="#22f022" transform="rotate(101 80 1100)" filter="url(#b1)"/>
<ellipse cx="210" cy="1012" rx="9.7" ry="5.3" fill="#22f022" transform="rotate(116 210 1012)" filter="url(#b1)"/>
<ellipse cx="439" cy="308" rx="10.3" ry="5.7" fill="#b8f020" transform="rotate(175 439 308)" filter="url(#b1)"/>
<ellipse cx="323" cy="1219" rx="10.1" ry="5.5" fill="#b8f020" transform="rotate(71 323 1219)" filter="url(#b1)"/>
<ellipse cx="659" cy="156" rx="13.9" ry="7.7" fill="#22f022" transform="rotate(38 659 156)" filter="url(#b1)"/>
<ellipse cx="110" cy="810" rx="10.2" ry="5.6" fill="#22f022" transform="rotate(108 110 810)" filter="url(#b1)"/>
<ellipse cx="471" cy="1320" rx="11.4" ry="6.3" fill="#b8f020" transform="rotate(103 471 1320)" filter="url(#b1)"/>
<rect x="845" y="1350" width="150" height="18" fill="#fff"/>
<text x="895" y="1310" font-size="60" fill="#fff" text-anchor="middle" textLength="170" lengthAdjust="spacingAndGlyphs">10 µm</text>
</g></g>
<clipPath id="clip6"><rect x="257.40" y="746.50" width="226.80" height="305.10"/></clipPath>
<g clip-path="url(#clip6)">
<rect x="257.40" y="746.50" width="226.80" height="305.10" fill="#000" stroke="none" stroke-width="1" />
<g transform="translate(257.40,746.50) scale(0.21944,0.21935)">
<ellipse cx="530" cy="100" rx="55" ry="55" fill="#ff1212" opacity="1" filter="url(#b2)"/>
<ellipse cx="460" cy="170" rx="62" ry="62" fill="none" stroke="#c01010" stroke-width="7" opacity="0.7" filter="url(#b1)"/>
<ellipse cx="430" cy="270" rx="50" ry="50" fill="none" stroke="#c01010" stroke-width="7" opacity="0.7" filter="url(#b1)"/>
<ellipse cx="510" cy="320" rx="60" ry="60" fill="#b81212" opacity="1" filter="url(#b2)"/>
<ellipse cx="595" cy="455" rx="82" ry="82" fill="#ff1212" opacity="1" filter="url(#b2)"/>
<ellipse cx="260" cy="385" rx="40" ry="40" fill="none" stroke="#ff1212" stroke-width="14" opacity="0.9" filter="url(#b1)"/>
<ellipse cx="260" cy="455" rx="15" ry="15" fill="#ff1212" opacity="1" filter="url(#b2)"/>
<ellipse cx="250" cy="540" rx="50" ry="50" fill="#801010" opacity="1" filter="url(#b2)"/>
<ellipse cx="590" cy="610" rx="82" ry="82" fill="#c01212" opacity="1" filter="url(#b2)"/>
<ellipse cx="760" cy="560" rx="75" ry="75" fill="none" stroke="#a01010" stroke-width="6" opacity="0.7" filter="url(#b1)"/>
<ellipse cx="460" cy="650" rx="75" ry="75" fill="none" stroke="#a01010" stroke-width="6" opacity="0.7" filter="url(#b1)"/>
<ellipse cx="50" cy="650" rx="45" ry="45" fill="none" stroke="#e01010" stroke-width="9" opacity="0.9" filter="url(#b1)"/>
<ellipse cx="150" cy="820" rx="130" ry="130" fill="#b01414" opacity="0.9" filter="url(#b2)"/>
<ellipse cx="60" cy="860" rx="45" ry="45" fill="#c01010" opacity="1" filter="url(#b2)"/>
<ellipse cx="370" cy="830" rx="70" ry="70" fill="#ff1212" opacity="1" filter="url(#b2)"/>
<ellipse cx="230" cy="930" rx="50" ry="50" fill="none" stroke="#901010" stroke-width="6" opacity="0.7" filter="url(#b1)"/>
<ellipse cx="690" cy="900" rx="75" ry="75" fill="#c81212" opacity="1" filter="url(#b2)"/>
<ellipse cx="920" cy="1070" rx="75" ry="75" fill="#d01212" opacity="1" filter="url(#b2)"/>
<ellipse cx="660" cy="1080" rx="60" ry="60" fill="#901010" opacity="1" filter="url(#b2)"/>
<ellipse cx="240" cy="1110" rx="85" ry="85" fill="none" stroke="#c81010" stroke-width="12" opacity="0.9" filter="url(#b1)"/>
<ellipse cx="240" cy="1110" rx="70" ry="70" fill="#a81212" opacity="1" filter="url(#b2)"/>
<ellipse cx="60" cy="1190" rx="60" ry="60" fill="#d01010" opacity="1" filter="url(#b2)"/>
<ellipse cx="245" cy="1320" rx="55" ry="55" fill="#ff1212" opacity="1" filter="url(#b2)"/>
<ellipse cx="790" cy="1285" rx="50" ry="50" fill="none" stroke="#d01010" stroke-width="9" opacity="0.9" filter="url(#b1)"/>
<ellipse cx="900" cy="1250" rx="50" ry="50" fill="#a01010" opacity="1" filter="url(#b2)"/>
<ellipse cx="1035" cy="770" rx="35" ry="35" fill="none" stroke="#c01010" stroke-width="8" opacity="0.9" filter="url(#b1)"/>
<ellipse cx="680" cy="40" rx="16" ry="12.8" fill="#ffff00" transform="rotate(0 680 40)" filter="url(#b1)"/>
<ellipse cx="715" cy="170" rx="20" ry="16.0" fill="#22f022" transform="rotate(0 715 170)" filter="url(#b1)"/>
<ellipse cx="120" cy="178" rx="12" ry="9.600000000000001" fill="#ffff00" transform="rotate(0 120 178)" filter="url(#b1)"/>
<ellipse cx="335" cy="560" rx="12" ry="9.600000000000001" fill="#22f022" transform="rotate(0 335 560)" filter="url(#b1)"/>
<ellipse cx="135" cy="605" rx="12" ry="9.600000000000001" fill="#22f022" transform="rotate(0 135 605)" filter="url(#b1)"/>
<ellipse cx="108" cy="655" rx="18" ry="14.4" fill="#22f022" transform="rotate(0 108 655)" filter="url(#b1)"/>
<ellipse cx="150" cy="650" rx="14" ry="11.200000000000001" fill="#22f022" transform="rotate(0 150 650)" filter="url(#b1)"/>
<ellipse cx="885" cy="665" rx="16" ry="12.8" fill="#ffff00" transform="rotate(0 885 665)" filter="url(#b1)"/>
<ellipse cx="1015" cy="405" rx="14" ry="11.200000000000001" fill="#22f022" transform="rotate(0 1015 405)" filter="url(#b1)"/>
<ellipse cx="405" cy="815" rx="20" ry="16.0" fill="#ffff00" transform="rotate(0 405 815)" filter="url(#b1)"/>
<ellipse cx="490" cy="1000" rx="14" ry="11.200000000000001" fill="#22f022" transform="rotate(0 490 1000)" filter="url(#b1)"/>
<ellipse cx="535" cy="1100" rx="16" ry="12.8" fill="#22f022" transform="rotate(0 535 1100)" filter="url(#b1)"/>
<ellipse cx="910" cy="985" rx="16" ry="12.8" fill="#ffff00" transform="rotate(0 910 985)" filter="url(#b1)"/>
<ellipse cx="1000" cy="1195" rx="18" ry="14.4" fill="#22f022" transform="rotate(0 1000 1195)" filter="url(#b1)"/>
<rect x="850" y="1350" width="155" height="18" fill="#fff"/>
<text x="898" y="1310" font-size="60" fill="#fff" text-anchor="middle" textLength="170" lengthAdjust="spacingAndGlyphs">10 µm</text>
</g></g>
<clipPath id="clip7"><rect x="491.50" y="746.50" width="226.20" height="305.10"/></clipPath>
<g clip-path="url(#clip7)">
<rect x="491.50" y="746.50" width="226.20" height="305.10" fill="#000" stroke="none" stroke-width="1" />
<g transform="translate(491.50,746.50) scale(0.21932,0.21935)">
<ellipse cx="600" cy="70" rx="68" ry="68" fill="#ff1212" opacity="1" filter="url(#b2)"/>
<path d="M640,100 C650,100 692,138 700,150 C708,162 700,175 690,175 C680,175 648,162 640,150 C632,138 630,100 640,100 Z" fill="#ff1212" opacity="1" filter="url(#b1)"/>
<ellipse cx="720" cy="60" rx="25" ry="25" fill="#c01010" opacity="1" filter="url(#b2)"/>
<ellipse cx="330" cy="200" rx="55" ry="55" fill="none" stroke="#ff1212" stroke-width="14" opacity="0.9" filter="url(#b1)"/>
<ellipse cx="330" cy="200" rx="45" ry="45" fill="#c01010" opacity="1" filter="url(#b2)"/>
<ellipse cx="190" cy="340" rx="88" ry="88" fill="#ff1212" opacity="1" filter="url(#b2)"/>
<ellipse cx="160" cy="525" rx="70" ry="70" fill="#d81010" opacity="1" filter="url(#b2)"/>
<ellipse cx="250" cy="680" rx="92" ry="88" fill="none" stroke="#ff1212" stroke-width="16" opacity="0.9" filter="url(#b1)"/>
<ellipse cx="330" cy="680" rx="40" ry="40" fill="#ff1212" opacity="1" filter="url(#b2)"/>
<ellipse cx="290" cy="860" rx="62" ry="62" fill="#c81212" opacity="1" filter="url(#b2)"/>
<ellipse cx="555" cy="495" rx="62" ry="62" fill="#ff1212" opacity="1" filter="url(#b2)"/>
<ellipse cx="560" cy="715" rx="90" ry="90" fill="#ff1212" opacity="1" filter="url(#b2)"/>
<ellipse cx="600" cy="880" rx="65" ry="65" fill="#d01212" opacity="1" filter="url(#b2)"/>
<ellipse cx="470" cy="790" rx="55" ry="55" fill="none" stroke="#901010" stroke-width="7" opacity="0.8" filter="url(#b1)"/>
<ellipse cx="530" cy="1210" rx="140" ry="110" fill="#ff1212" opacity="0.95" filter="url(#b2)"/>
<ellipse cx="840" cy="1160" rx="75" ry="75" fill="#ff1212" opacity="1" filter="url(#b2)"/>
<ellipse cx="1035" cy="310" rx="35" ry="35" fill="none" stroke="#ff1212" stroke-width="14" opacity="0.9" filter="url(#b1)"/>
<ellipse cx="845" cy="425" rx="15" ry="15" fill="#ff1212" opacity="1" filter="url(#b2)"/>
<ellipse cx="340" cy="45" rx="14" ry="11.200000000000001" fill="#22f022" transform="rotate(0 340 45)" filter="url(#b1)"/>
<ellipse cx="520" cy="55" rx="14" ry="11.200000000000001" fill="#22f022" transform="rotate(0 520 55)" filter="url(#b1)"/>
<ellipse cx="520" cy="100" rx="14" ry="11.200000000000001" fill="#22f022" transform="rotate(0 520 100)" filter="url(#b1)"/>
<ellipse cx="390" cy="130" rx="14" ry="11.200000000000001" fill="#22f022" transform="rotate(0 390 130)" filter="url(#b1)"/>
<ellipse cx="570" cy="150" rx="12" ry="9.600000000000001" fill="#22f022" transform="rotate(0 570 150)" filter="url(#b1)"/>
<ellipse cx="560" cy="180" rx="14" ry="11.200000000000001" fill="#22f022" transform="rotate(0 560 180)" filter="url(#b1)"/>
<ellipse cx="515" cy="205" rx="12" ry="9.600000000000001" fill="#22f022" transform="rotate(0 515 205)" filter="url(#b1)"/>
<ellipse cx="60" cy="210" rx="12" ry="9.600000000000001" fill="#22f022" transform="rotate(0 60 210)" filter="url(#b1)"/>
<ellipse cx="840" cy="175" rx="16" ry="12.8" fill="#22f022" transform="rotate(0 840 175)" filter="url(#b1)"/>
<ellipse cx="690" cy="48" rx="12" ry="9.600000000000001" fill="#22f022" transform="rotate(0 690 48)" filter="url(#b1)"/>
<ellipse cx="240" cy="270" rx="12" ry="9.600000000000001" fill="#22f022" transform="rotate(0 240 270)" filter="url(#b1)"/>
<ellipse cx="355" cy="350" rx="12" ry="9.600000000000001" fill="#22f022" transform="rotate(0 355 350)" filter="url(#b1)"/>
<ellipse cx="300" cy="405" rx="18" ry="14.4" fill="#22f022" transform="rotate(0 300 405)" filter="url(#b1)"/>
<ellipse cx="250" cy="430" rx="14" ry="11.200000000000001" fill="#22f022" transform="rotate(0 250 430)" filter="url(#b1)"/>
<ellipse cx="570" cy="360" rx="16" ry="12.8" fill="#22f022" transform="rotate(0 570 360)" filter="url(#b1)"/>
<ellipse cx="715" cy="350" rx="14" ry="11.200000000000001" fill="#22f022" transform="rotate(0 715 350)" filter="url(#b1)"/>
<ellipse cx="760" cy="350" rx="14" ry="11.200000000000001" fill="#22f022" transform="rotate(0 760 350)" filter="url(#b1)"/>
<ellipse cx="795" cy="370" rx="18" ry="14.4" fill="#22f022" transform="rotate(0 795 370)" filter="url(#b1)"/>
<ellipse cx="965" cy="320" rx="14" ry="11.200000000000001" fill="#22f022" transform="rotate(0 965 320)" filter="url(#b1)"/>
<ellipse cx="95" cy="440" rx="14" ry="11.200000000000001" fill="#22f022" transform="rotate(0 95 440)" filter="url(#b1)"/>
<ellipse cx="80" cy="470" rx="14" ry="11.200000000000001" fill="#22f022" transform="rotate(0 80 470)" filter="url(#b1)"/>
<ellipse cx="465" cy="490" rx="14" ry="11.200000000000001" fill="#22f022" transform="rotate(0 465 490)" filter="url(#b1)"/>
<ellipse cx="320" cy="530" rx="14" ry="11.200000000000001" fill="#22f022" transform="rotate(0 320 530)" filter="url(#b1)"/>
<ellipse cx="330" cy="560" rx="14" ry="11.200000000000001" fill="#22f022" transform="rotate(0 330 560)" filter="url(#b1)"/>
<ellipse cx="70" cy="585" rx="16" ry="12.8" fill="#22f022" transform="rotate(0 70 585)" filter="url(#b1)"/>
<ellipse cx="270" cy="520" rx="12" ry="9.600000000000001" fill="#22f022" transform="rotate(0 270 520)" filter="url(#b1)"/>
<ellipse cx="500" cy="615" rx="14" ry="11.200000000000001" fill="#22f022" transform="rotate(0 500 615)" filter="url(#b1)"/>
<ellipse cx="485" cy="650" rx="14" ry="11.200000000000001" fill="#22f022" transform="rotate(0 485 650)" filter="url(#b1)"/>
<ellipse cx="515" cy="590" rx="14" ry="11.200000000000001" fill="#22f022" transform="rotate(0 515 590)" filter="url(#b1)"/>
<ellipse cx="450" cy="710" rx="14" ry="11.200000000000001" fill="#22f022" transform="rotate(0 450 710)" filter="url(#b1)"/>
<ellipse cx="745" cy="705" rx="16" ry="12.8" fill="#22f022" transform="rotate(0 745 705)" filter="url(#b1)"/>
<ellipse cx="880" cy="610" rx="14" ry="11.200000000000001" fill="#22f022" transform="rotate(0 880 610)" filter="url(#b1)"/>
<ellipse cx="990" cy="550" rx="12" ry="9.600000000000001" fill="#22f022" transform="rotate(0 990 550)" filter="url(#b1)"/>
<ellipse cx="170" cy="820" rx="14" ry="11.200000000000001" fill="#22f022" transform="rotate(0 170 820)" filter="url(#b1)"/>
<ellipse cx="160" cy="870" rx="12" ry="9.600000000000001" fill="#22f022" transform="rotate(0 160 870)" filter="url(#b1)"/>
<ellipse cx="215" cy="915" rx="14" ry="11.200000000000001" fill="#22f022" transform="rotate(0 215 915)" filter="url(#b1)"/>
<ellipse cx="510" cy="865" rx="16" ry="12.8" fill="#22f022" transform="rotate(0 510 865)" filter="url(#b1)"/>
<ellipse cx="545" cy="885" rx="12" ry="9.600000000000001" fill="#22f022" transform="rotate(0 545 885)" filter="url(#b1)"/>
<ellipse cx="585" cy="820" rx="14" ry="11.200000000000001" fill="#22f022" transform="rotate(0 585 820)" filter="url(#b1)"/>
<ellipse cx="640" cy="790" rx="14" ry="11.200000000000001" fill="#22f022" transform="rotate(0 640 790)" filter="url(#b1)"/>
<ellipse cx="1005" cy="810" rx="12" ry="9.600000000000001" fill="#22f022" transform="rotate(0 1005 810)" filter="url(#b1)"/>
<ellipse cx="905" cy="865" rx="16" ry="12.8" fill="#22f022" transform="rotate(0 905 865)" filter="url(#b1)"/>
<ellipse cx="1020" cy="900" rx="14" ry="11.200000000000001" fill="#22f022" transform="rotate(0 1020 900)" filter="url(#b1)"/>
<ellipse cx="430" cy="990" rx="16" ry="12.8" fill="#22f022" transform="rotate(0 430 990)" filter="url(#b1)"/>
<ellipse cx="465" cy="990" rx="14" ry="11.200000000000001" fill="#22f022" transform="rotate(0 465 990)" filter="url(#b1)"/>
<ellipse cx="510" cy="1030" rx="16" ry="12.8" fill="#22f022" transform="rotate(0 510 1030)" filter="url(#b1)"/>
<ellipse cx="550" cy="1010" rx="14" ry="11.200000000000001" fill="#22f022" transform="rotate(0 550 1010)" filter="url(#b1)"/>
<ellipse cx="340" cy="1040" rx="18" ry="14.4" fill="#22f022" transform="rotate(0 340 1040)" filter="url(#b1)"/>
<ellipse cx="375" cy="1050" rx="18" ry="14.4" fill="#22f022" transform="rotate(0 375 1050)" filter="url(#b1)"/>
<ellipse cx="250" cy="1015" rx="12" ry="9.600000000000001" fill="#22f022" transform="rotate(0 250 1015)" filter="url(#b1)"/>
<ellipse cx="770" cy="970" rx="14" ry="11.200000000000001" fill="#22f022" transform="rotate(0 770 970)" filter="url(#b1)"/>
<ellipse cx="680" cy="1080" rx="16" ry="12.8" fill="#22f022" transform="rotate(0 680 1080)" filter="url(#b1)"/>
<ellipse cx="660" cy="1115" rx="16" ry="12.8" fill="#22f022" transform="rotate(0 660 1115)" filter="url(#b1)"/>
<ellipse cx="520" cy="1100" rx="14" ry="11.200000000000001" fill="#22f022" transform="rotate(0 520 1100)" filter="url(#b1)"/>
<ellipse cx="45" cy="1230" rx="20" ry="16.0" fill="#22f022" transform="rotate(0 45 1230)" filter="url(#b1)"/>
<ellipse cx="125" cy="1345" rx="20" ry="16.0" fill="#22f022" transform="rotate(0 125 1345)" filter="url(#b1)"/>
<ellipse cx="155" cy="1315" rx="12" ry="9.600000000000001" fill="#22f022" transform="rotate(0 155 1315)" filter="url(#b1)"/>
<ellipse cx="400" cy="1360" rx="18" ry="14.4" fill="#22f022" transform="rotate(0 400 1360)" filter="url(#b1)"/>
<ellipse cx="740" cy="1255" rx="18" ry="14.4" fill="#22f022" transform="rotate(0 740 1255)" filter="url(#b1)"/>
<ellipse cx="900" cy="1010" rx="14" ry="11.200000000000001" fill="#22f022" transform="rotate(0 900 1010)" filter="url(#b1)"/>
<ellipse cx="20" cy="1350" rx="14" ry="11.200000000000001" fill="#22f022" transform="rotate(0 20 1350)" filter="url(#b1)"/>
<ellipse cx="150" cy="400" rx="14" ry="11.200000000000001" fill="#ffff00" transform="rotate(0 150 400)" filter="url(#b1)"/>
<ellipse cx="250" cy="350" rx="14" ry="11.200000000000001" fill="#ffff00" transform="rotate(0 250 350)" filter="url(#b1)"/>
<ellipse cx="230" cy="520" rx="14" ry="11.200000000000001" fill="#ffff00" transform="rotate(0 230 520)" filter="url(#b1)"/>
<ellipse cx="340" cy="630" rx="12" ry="9.600000000000001" fill="#ffff00" transform="rotate(0 340 630)" filter="url(#b1)"/>
<ellipse cx="520" cy="690" rx="16" ry="12.8" fill="#ffff00" transform="rotate(0 520 690)" filter="url(#b1)"/>
<ellipse cx="630" cy="690" rx="14" ry="11.200000000000001" fill="#ffff00" transform="rotate(0 630 690)" filter="url(#b1)"/>
<ellipse cx="545" cy="790" rx="14" ry="11.200000000000001" fill="#ffff00" transform="rotate(0 545 790)" filter="url(#b1)"/>
<ellipse cx="585" cy="820" rx="12" ry="9.600000000000001" fill="#ffff00" transform="rotate(0 585 820)" filter="url(#b1)"/>
<ellipse cx="500" cy="1190" rx="14" ry="11.200000000000001" fill="#ffff00" transform="rotate(0 500 1190)" filter="url(#b1)"/>
<ellipse cx="600" cy="1220" rx="16" ry="12.8" fill="#ffff00" transform="rotate(0 600 1220)" filter="url(#b1)"/>
<ellipse cx="620" cy="1160" rx="14" ry="11.200000000000001" fill="#ffff00" transform="rotate(0 620 1160)" filter="url(#b1)"/>
<ellipse cx="380" cy="1240" rx="14" ry="11.200000000000001" fill="#ffff00" transform="rotate(0 380 1240)" filter="url(#b1)"/>
<ellipse cx="420" cy="1180" rx="12" ry="9.600000000000001" fill="#ffff00" transform="rotate(0 420 1180)" filter="url(#b1)"/>
<ellipse cx="820" cy="1130" rx="18" ry="14.4" fill="#ffff00" transform="rotate(0 820 1130)" filter="url(#b1)"/>
<ellipse cx="880" cy="1170" rx="16" ry="12.8" fill="#ffff00" transform="rotate(0 880 1170)" filter="url(#b1)"/>
<ellipse cx="840" cy="1200" rx="14" ry="11.200000000000001" fill="#ffff00" transform="rotate(0 840 1200)" filter="url(#b1)"/>
<ellipse cx="270" cy="860" rx="12" ry="9.600000000000001" fill="#ffff00" transform="rotate(0 270 860)" filter="url(#b1)"/>
<ellipse cx="560" cy="460" rx="12" ry="9.600000000000001" fill="#ffff00" transform="rotate(0 560 460)" filter="url(#b1)"/>
<ellipse cx="492" cy="911" rx="12.3" ry="6.8" fill="#22f022" transform="rotate(26 492 911)" filter="url(#b1)"/>
<ellipse cx="393" cy="391" rx="13.1" ry="7.2" fill="#22f022" transform="rotate(124 393 391)" filter="url(#b1)"/>
<ellipse cx="575" cy="916" rx="9.7" ry="5.3" fill="#22f022" transform="rotate(79 575 916)" filter="url(#b1)"/>
<ellipse cx="921" cy="100" rx="13.1" ry="7.2" fill="#22f022" transform="rotate(13 921 100)" filter="url(#b1)"/>
<ellipse cx="355" cy="568" rx="13.2" ry="7.3" fill="#22f022" transform="rotate(3 355 568)" filter="url(#b1)"/>
<ellipse cx="930" cy="710" rx="9.5" ry="5.2" fill="#b8f020" transform="rotate(178 930 710)" filter="url(#b1)"/>
<ellipse cx="132" cy="593" rx="9.7" ry="5.3" fill="#22f022" transform="rotate(56 132 593)" filter="url(#b1)"/>
<ellipse cx="183" cy="964" rx="9.3" ry="5.1" fill="#b8f020" transform="rotate(31 183 964)" filter="url(#b1)"/>
<ellipse cx="419" cy="588" rx="12.0" ry="6.6" fill="#22f022" transform="rotate(86 419 588)" filter="url(#b1)"/>
<ellipse cx="50" cy="1004" rx="13.8" ry="7.6" fill="#22f022" transform="rotate(176 50 1004)" filter="url(#b1)"/>
<ellipse cx="375" cy="512" rx="12.5" ry="6.8" fill="#22f022" transform="rotate(121 375 512)" filter="url(#b1)"/>
<ellipse cx="254" cy="512" rx="11.6" ry="6.4" fill="#22f022" transform="rotate(146 254 512)" filter="url(#b1)"/>
<ellipse cx="48" cy="1135" rx="11.2" ry="6.1" fill="#22f022" transform="rotate(93 48 1135)" filter="url(#b1)"/>
<ellipse cx="445" cy="546" rx="12.9" ry="7.1" fill="#22f022" transform="rotate(18 445 546)" filter="url(#b1)"/>
<ellipse cx="197" cy="963" rx="9.2" ry="5.1" fill="#22f022" transform="rotate(50 197 963)" filter="url(#b1)"/>
<ellipse cx="654" cy="91" rx="11.3" ry="6.2" fill="#22f022" transform="rotate(38 654 91)" filter="url(#b1)"/>
<ellipse cx="187" cy="1272" rx="10.8" ry="6.0" fill="#22f022" transform="rotate(34 187 1272)" filter="url(#b1)"/>
<ellipse cx="927" cy="29" rx="10.3" ry="5.7" fill="#22f022" transform="rotate(139 927 29)" filter="url(#b1)"/>
<ellipse cx="260" cy="32" rx="9.2" ry="5.1" fill="#b8f020" transform="rotate(111 260 32)" filter="url(#b1)"/>
<ellipse cx="1014" cy="702" rx="9.1" ry="5.0" fill="#22f022" transform="rotate(58 1014 702)" filter="url(#b1)"/>
<ellipse cx="848" cy="886" rx="10.1" ry="5.6" fill="#22f022" transform="rotate(95 848 886)" filter="url(#b1)"/>
<ellipse cx="644" cy="376" rx="13.7" ry="7.6" fill="#22f022" transform="rotate(161 644 376)" filter="url(#b1)"/>
<ellipse cx="310" cy="1203" rx="10.4" ry="5.7" fill="#22f022" transform="rotate(170 310 1203)" filter="url(#b1)"/>
<ellipse cx="712" cy="975" rx="10.1" ry="5.5" fill="#22f022" transform="rotate(51 712 975)" filter="url(#b1)"/>
<ellipse cx="700" cy="961" rx="9.7" ry="5.3" fill="#22f022" transform="rotate(160 700 961)" filter="url(#b1)"/>
<ellipse cx="995" cy="779" rx="12.1" ry="6.7" fill="#b8f020" transform="rotate(166 995 779)" filter="url(#b1)"/>
<ellipse cx="777" cy="586" rx="11.9" ry="6.6" fill="#22f022" transform="rotate(162 777 586)" filter="url(#b1)"/>
<ellipse cx="597" cy="491" rx="10.8" ry="6.0" fill="#22f022" transform="rotate(132 597 491)" filter="url(#b1)"/>
<ellipse cx="37" cy="982" rx="13.5" ry="7.4" fill="#b8f020" transform="rotate(144 37 982)" filter="url(#b1)"/>
<ellipse cx="926" cy="745" rx="12.9" ry="7.1" fill="#22f022" transform="rotate(68 926 745)" filter="url(#b1)"/>
<ellipse cx="371" cy="443" rx="13.7" ry="7.5" fill="#22f022" transform="rotate(124 371 443)" filter="url(#b1)"/>
<ellipse cx="639" cy="189" rx="11.7" ry="6.4" fill="#22f022" transform="rotate(126 639 189)" filter="url(#b1)"/>
<ellipse cx="265" cy="571" rx="10.6" ry="5.8" fill="#22f022" transform="rotate(123 265 571)" filter="url(#b1)"/>
<ellipse cx="110" cy="443" rx="12.5" ry="6.9" fill="#22f022" transform="rotate(137 110 443)" filter="url(#b1)"/>
<ellipse cx="950" cy="515" rx="9.1" ry="5.0" fill="#22f022" transform="rotate(88 950 515)" filter="url(#b1)"/>
<ellipse cx="198" cy="924" rx="10.7" ry="5.9" fill="#22f022" transform="rotate(43 198 924)" filter="url(#b1)"/>
<ellipse cx="959" cy="30" rx="10.8" ry="5.9" fill="#22f022" transform="rotate(50 959 30)" filter="url(#b1)"/>
<ellipse cx="450" cy="319" rx="13.6" ry="7.5" fill="#22f022" transform="rotate(90 450 319)" filter="url(#b1)"/>
<ellipse cx="871" cy="1147" rx="10.1" ry="5.6" fill="#22f022" transform="rotate(97 871 1147)" filter="url(#b1)"/>
<ellipse cx="413" cy="932" rx="12.3" ry="6.8" fill="#22f022" transform="rotate(175 413 932)" filter="url(#b1)"/>
<rect x="860" y="1350" width="150" height="18" fill="#fff"/>
<text x="910" y="1310" font-size="60" fill="#fff" text-anchor="middle" textLength="170" lengthAdjust="spacingAndGlyphs">10 µm</text>
</g></g>
<clipPath id="clip8"><rect x="726.60" y="746.50" width="226.40" height="305.10"/></clipPath>
<g clip-path="url(#clip8)">
<rect x="726.60" y="746.50" width="226.40" height="305.10" fill="#000" stroke="none" stroke-width="1" />
<g transform="translate(726.60,746.50) scale(0.21932,0.21935)">
<ellipse cx="150" cy="150" rx="72" ry="72" fill="#ff1212" opacity="1" filter="url(#b2)"/>
<ellipse cx="120" cy="250" rx="80" ry="80" fill="none" stroke="#901010" stroke-width="6" opacity="0.7" filter="url(#b1)"/>
<ellipse cx="290" cy="125" rx="35" ry="35" fill="#ff1212" opacity="1" filter="url(#b2)"/>
<ellipse cx="355" cy="130" rx="25" ry="25" fill="#d01010" opacity="1" filter="url(#b2)"/>
<ellipse cx="600" cy="25" rx="48" ry="48" fill="#ff1212" opacity="1" filter="url(#b2)"/>
<ellipse cx="630" cy="130" rx="72" ry="72" fill="#ff1212" opacity="1" filter="url(#b2)"/>
<ellipse cx="710" cy="205" rx="65" ry="65" fill="#ff1212" opacity="1" filter="url(#b2)"/>
<ellipse cx="655" cy="340" rx="45" ry="45" fill="#ff1212" opacity="1" filter="url(#b2)"/>
<ellipse cx="880" cy="320" rx="48" ry="48" fill="#c01212" opacity="1" filter="url(#b2)"/>
<ellipse cx="1005" cy="275" rx="35" ry="35" fill="#ff1212" opacity="1" filter="url(#b2)"/>
<ellipse cx="440" cy="540" rx="65" ry="65" fill="#ff1212" opacity="1" filter="url(#b2)"/>
<ellipse cx="290" cy="700" rx="35" ry="35" fill="#901010" opacity="1" filter="url(#b2)"/>
<ellipse cx="600" cy="760" rx="55" ry="55" fill="#ff1212" opacity="1" filter="url(#b2)"/>
<ellipse cx="730" cy="700" rx="40" ry="40" fill="#8a1010" opacity="1" filter="url(#b2)"/>
<ellipse cx="940" cy="745" rx="30" ry="30" fill="#ff1212" opacity="1" filter="url(#b2)"/>
<ellipse cx="320" cy="880" rx="40" ry="40" fill="#ff1212" opacity="1" filter="url(#b2)"/>
<ellipse cx="950" cy="930" rx="72" ry="72" fill="#ff1212" opacity="1" filter="url(#b2)"/>
<ellipse cx="710" cy="990" rx="45" ry="45" fill="#a01010" opacity="1" filter="url(#b2)"/>
<ellipse cx="150" cy="1220" rx="120" ry="110" fill="#ff1212" opacity="1" filter="url(#b2)"/>
<ellipse cx="435" cy="1310" rx="20" ry="20" fill="#a01010" opacity="1" filter="url(#b2)"/>
<ellipse cx="540" cy="1300" rx="12" ry="12" fill="#c01010" opacity="1" filter="url(#b2)"/>
<ellipse cx="150" cy="120" rx="30" ry="24.0" fill="#ffff00" transform="rotate(0 150 120)" filter="url(#b1)"/>
<ellipse cx="130" cy="150" rx="24" ry="19.200000000000003" fill="#ffff00" transform="rotate(0 130 150)" filter="url(#b1)"/>
<ellipse cx="180" cy="130" rx="20" ry="16.0" fill="#ffff00" transform="rotate(0 180 130)" filter="url(#b1)"/>
<ellipse cx="620" cy="140" rx="22" ry="17.6" fill="#ffff00" transform="rotate(0 620 140)" filter="url(#b1)"/>
<ellipse cx="600" cy="170" rx="18" ry="14.4" fill="#ffff00" transform="rotate(0 600 170)" filter="url(#b1)"/>
<ellipse cx="700" cy="190" rx="22" ry="17.6" fill="#ffff00" transform="rotate(0 700 190)" filter="url(#b1)"/>
<ellipse cx="720" cy="220" rx="16" ry="12.8" fill="#ffff00" transform="rotate(0 720 220)" filter="url(#b1)"/>
<ellipse cx="440" cy="510" rx="16" ry="12.8" fill="#ffff00" transform="rotate(0 440 510)" filter="url(#b1)"/>
<ellipse cx="410" cy="540" rx="16" ry="12.8" fill="#ffff00" transform="rotate(0 410 540)" filter="url(#b1)"/>
<ellipse cx="950" cy="920" rx="26" ry="20.8" fill="#ffff00" transform="rotate(0 950 920)" filter="url(#b1)"/>
<ellipse cx="930" cy="960" rx="20" ry="16.0" fill="#ffff00" transform="rotate(0 930 960)" filter="url(#b1)"/>
<ellipse cx="990" cy="900" rx="18" ry="14.4" fill="#ffff00" transform="rotate(0 990 900)" filter="url(#b1)"/>
<ellipse cx="150" cy="1200" rx="20" ry="16.0" fill="#ffff00" transform="rotate(0 150 1200)" filter="url(#b1)"/>
<ellipse cx="100" cy="1240" rx="18" ry="14.4" fill="#ffff00" transform="rotate(0 100 1240)" filter="url(#b1)"/>
<ellipse cx="200" cy="1180" rx="16" ry="12.8" fill="#ffff00" transform="rotate(0 200 1180)" filter="url(#b1)"/>
<ellipse cx="60" cy="1300" rx="16" ry="12.8" fill="#ffff00" transform="rotate(0 60 1300)" filter="url(#b1)"/>
<ellipse cx="750" cy="70" rx="14" ry="11.200000000000001" fill="#22f022" transform="rotate(0 750 70)" filter="url(#b1)"/>
<ellipse cx="830" cy="80" rx="12" ry="9.600000000000001" fill="#22f022" transform="rotate(0 830 80)" filter="url(#b1)"/>
<ellipse cx="880" cy="100" rx="12" ry="9.600000000000001" fill="#22f022" transform="rotate(0 880 100)" filter="url(#b1)"/>
<ellipse cx="720" cy="105" rx="12" ry="9.600000000000001" fill="#22f022" transform="rotate(0 720 105)" filter="url(#b1)"/>
<ellipse cx="995" cy="145" rx="14" ry="11.200000000000001" fill="#22f022" transform="rotate(0 995 145)" filter="url(#b1)"/>
<ellipse cx="470" cy="165" rx="12" ry="9.600000000000001" fill="#22f022" transform="rotate(0 470 165)" filter="url(#b1)"/>
<ellipse cx="505" cy="250" rx="16" ry="12.8" fill="#22f022" transform="rotate(0 505 250)" filter="url(#b1)"/>
<ellipse cx="560" cy="300" rx="12" ry="9.600000000000001" fill="#22f022" transform="rotate(0 560 300)" filter="url(#b1)"/>
<ellipse cx="600" cy="340" rx="12" ry="9.600000000000001" fill="#22f022" transform="rotate(0 600 340)" filter="url(#b1)"/>
<ellipse cx="590" cy="390" rx="12" ry="9.600000000000001" fill="#22f022" transform="rotate(0 590 390)" filter="url(#b1)"/>
<ellipse cx="380" cy="180" rx="16" ry="12.8" fill="#22f022" transform="rotate(0 380 180)" filter="url(#b1)"/>
<ellipse cx="395" cy="150" rx="12" ry="9.600000000000001" fill="#22f022" transform="rotate(0 395 150)" filter="url(#b1)"/>
<ellipse cx="245" cy="325" rx="12" ry="9.600000000000001" fill="#22f022" transform="rotate(0 245 325)" filter="url(#b1)"/>
<ellipse cx="350" cy="290" rx="12" ry="9.600000000000001" fill="#22f022" transform="rotate(0 350 290)" filter="url(#b1)"/>
<ellipse cx="345" cy="315" rx="12" ry="9.600000000000001" fill="#22f022" transform="rotate(0 345 315)" filter="url(#b1)"/>
<ellipse cx="370" cy="245" rx="12" ry="9.600000000000001" fill="#22f022" transform="rotate(0 370 245)" filter="url(#b1)"/>
<ellipse cx="85" cy="450" rx="12" ry="9.600000000000001" fill="#22f022" transform="rotate(0 85 450)" filter="url(#b1)"/>
<ellipse cx="135" cy="545" rx="14" ry="11.200000000000001" fill="#22f022" transform="rotate(0 135 545)" filter="url(#b1)"/>
<ellipse cx="175" cy="610" rx="14" ry="11.200000000000001" fill="#22f022" transform="rotate(0 175 610)" filter="url(#b1)"/>
<ellipse cx="280" cy="530" rx="14" ry="11.200000000000001" fill="#22f022" transform="rotate(0 280 530)" filter="url(#b1)"/>
<ellipse cx="320" cy="500" rx="12" ry="9.600000000000001" fill="#22f022" transform="rotate(0 320 500)" filter="url(#b1)"/>
<ellipse cx="460" cy="430" rx="12" ry="9.600000000000001" fill="#22f022" transform="rotate(0 460 430)" filter="url(#b1)"/>
<ellipse cx="490" cy="420" rx="12" ry="9.600000000000001" fill="#22f022" transform="rotate(0 490 420)" filter="url(#b1)"/>
<ellipse cx="640" cy="510" rx="16" ry="12.8" fill="#22f022" transform="rotate(0 640 510)" filter="url(#b1)"/>
<ellipse cx="830" cy="530" rx="12" ry="9.600000000000001" fill="#22f022" transform="rotate(0 830 530)" filter="url(#b1)"/>
<ellipse cx="870" cy="600" rx="16" ry="12.8" fill="#22f022" transform="rotate(0 870 600)" filter="url(#b1)"/>
<ellipse cx="830" cy="635" rx="14" ry="11.200000000000001" fill="#22f022" transform="rotate(0 830 635)" filter="url(#b1)"/>
<ellipse cx="790" cy="640" rx="14" ry="11.200000000000001" fill="#22f022" transform="rotate(0 790 640)" filter="url(#b1)"/>
<ellipse cx="580" cy="635" rx="16" ry="12.8" fill="#22f022" transform="rotate(0 580 635)" filter="url(#b1)"/>
<ellipse cx="50" cy="700" rx="14" ry="11.200000000000001" fill="#22f022" transform="rotate(0 50 700)" filter="url(#b1)"/>
<ellipse cx="120" cy="700" rx="12" ry="9.600000000000001" fill="#22f022" transform="rotate(0 120 700)" filter="url(#b1)"/>
<ellipse cx="100" cy="740" rx="14" ry="11.200000000000001" fill="#22f022" transform="rotate(0 100 740)" filter="url(#b1)"/>
<ellipse cx="255" cy="685" rx="16" ry="12.8" fill="#22f022" transform="rotate(0 255 685)" filter="url(#b1)"/>
<ellipse cx="320" cy="760" rx="14" ry="11.200000000000001" fill="#22f022" transform="rotate(0 320 760)" filter="url(#b1)"/>
<ellipse cx="315" cy="650" rx="12" ry="9.600000000000001" fill="#22f022" transform="rotate(0 315 650)" filter="url(#b1)"/>
<ellipse cx="420" cy="790" rx="12" ry="9.600000000000001" fill="#22f022" transform="rotate(0 420 790)" filter="url(#b1)"/>
<ellipse cx="550" cy="745" rx="14" ry="11.200000000000001" fill="#22f022" transform="rotate(0 550 745)" filter="url(#b1)"/>
<ellipse cx="660" cy="770" rx="22" ry="17.6" fill="#22f022" transform="rotate(0 660 770)" filter="url(#b1)"/>
<ellipse cx="715" cy="770" rx="14" ry="11.200000000000001" fill="#22f022" transform="rotate(0 715 770)" filter="url(#b1)"/>
<ellipse cx="890" cy="760" rx="20" ry="16.0" fill="#22f022" transform="rotate(0 890 760)" filter="url(#b1)"/>
<ellipse cx="940" cy="820" rx="12" ry="9.600000000000001" fill="#22f022" transform="rotate(0 940 820)" filter="url(#b1)"/>
<ellipse cx="175" cy="875" rx="14" ry="11.200000000000001" fill="#22f022" transform="rotate(0 175 875)" filter="url(#b1)"/>
<ellipse cx="235" cy="870" rx="12" ry="9.600000000000001" fill="#22f022" transform="rotate(0 235 870)" filter="url(#b1)"/>
<ellipse cx="385" cy="870" rx="12" ry="9.600000000000001" fill="#22f022" transform="rotate(0 385 870)" filter="url(#b1)"/>
<ellipse cx="410" cy="895" rx="14" ry="11.200000000000001" fill="#22f022" transform="rotate(0 410 895)" filter="url(#b1)"/>
<ellipse cx="505" cy="865" rx="14" ry="11.200000000000001" fill="#22f022" transform="rotate(0 505 865)" filter="url(#b1)"/>
<ellipse cx="490" cy="905" rx="14" ry="11.200000000000001" fill="#22f022" transform="rotate(0 490 905)" filter="url(#b1)"/>
<ellipse cx="325" cy="945" rx="14" ry="11.200000000000001" fill="#22f022" transform="rotate(0 325 945)" filter="url(#b1)"/>
<ellipse cx="680" cy="845" rx="12" ry="9.600000000000001" fill="#22f022" transform="rotate(0 680 845)" filter="url(#b1)"/>
<ellipse cx="40" cy="910" rx="12" ry="9.600000000000001" fill="#22f022" transform="rotate(0 40 910)" filter="url(#b1)"/>
<ellipse cx="60" cy="1055" rx="16" ry="12.8" fill="#22f022" transform="rotate(0 60 1055)" filter="url(#b1)"/>
<ellipse cx="220" cy="1050" rx="14" ry="11.200000000000001" fill="#22f022" transform="rotate(0 220 1050)" filter="url(#b1)"/>
<ellipse cx="530" cy="1090" rx="16" ry="12.8" fill="#22f022" transform="rotate(0 530 1090)" filter="url(#b1)"/>
<ellipse cx="400" cy="1140" rx="16" ry="12.8" fill="#22f022" transform="rotate(0 400 1140)" filter="url(#b1)"/>
<ellipse cx="850" cy="1130" rx="16" ry="12.8" fill="#22f022" transform="rotate(0 850 1130)" filter="url(#b1)"/>
<ellipse cx="850" cy="1185" rx="14" ry="11.200000000000001" fill="#22f022" transform="rotate(0 850 1185)" filter="url(#b1)"/>
<ellipse cx="625" cy="1270" rx="18" ry="14.4" fill="#22f022" transform="rotate(0 625 1270)" filter="url(#b1)"/>
<ellipse cx="795" cy="1280" rx="14" ry="11.200000000000001" fill="#22f022" transform="rotate(0 795 1280)" filter="url(#b1)"/>
<ellipse cx="915" cy="1050" rx="12" ry="9.600000000000001" fill="#22f022" transform="rotate(0 915 1050)" filter="url(#b1)"/>
<ellipse cx="1000" cy="1080" rx="14" ry="11.200000000000001" fill="#22f022" transform="rotate(0 1000 1080)" filter="url(#b1)"/>
<ellipse cx="990" cy="1200" rx="12" ry="9.600000000000001" fill="#22f022" transform="rotate(0 990 1200)" filter="url(#b1)"/>
<ellipse cx="240" cy="1280" rx="14" ry="11.200000000000001" fill="#22f022" transform="rotate(0 240 1280)" filter="url(#b1)"/>
<ellipse cx="30" cy="1105" rx="14" ry="11.200000000000001" fill="#22f022" transform="rotate(0 30 1105)" filter="url(#b1)"/>
<ellipse cx="110" cy="1090" rx="14" ry="11.200000000000001" fill="#22f022" transform="rotate(0 110 1090)" filter="url(#b1)"/>
<ellipse cx="550" cy="1340" rx="12" ry="9.600000000000001" fill="#22f022" transform="rotate(0 550 1340)" filter="url(#b1)"/>
<ellipse cx="960" cy="1280" rx="12" ry="9.600000000000001" fill="#22f022" transform="rotate(0 960 1280)" filter="url(#b1)"/>
<ellipse cx="278" cy="949" rx="12.4" ry="6.8" fill="#22f022" transform="rotate(153 278 949)" filter="url(#b1)"/>
<ellipse cx="249" cy="219" rx="10.1" ry="5.6" fill="#22f022" transform="rotate(132 249 219)" filter="url(#b1)"/>
<ellipse cx="549" cy="310" rx="10.5" ry="5.8" fill="#b8f020" transform="rotate(78 549 310)" filter="url(#b1)"/>
<ellipse cx="625" cy="40" rx="10.4" ry="5.7" fill="#b8f020" transform="rotate(26 625 40)" filter="url(#b1)"/>
<ellipse cx="826" cy="1112" rx="13.1" ry="7.2" fill="#b8f020" transform="rotate(134 826 1112)" filter="url(#b1)"/>
<ellipse cx="810" cy="368" rx="13.2" ry="7.3" fill="#22f022" transform="rotate(88 810 368)" filter="url(#b1)"/>
<ellipse cx="581" cy="602" rx="10.8" ry="6.0" fill="#22f022" transform="rotate(77 581 602)" filter="url(#b1)"/>
<ellipse cx="707" cy="771" rx="12.7" ry="7.0" fill="#22f022" transform="rotate(24 707 771)" filter="url(#b1)"/>
<ellipse cx="461" cy="259" rx="10.0" ry="5.5" fill="#22f022" transform="rotate(94 461 259)" filter="url(#b1)"/>
<ellipse cx="477" cy="840" rx="11.0" ry="6.0" fill="#22f022" transform="rotate(24 477 840)" filter="url(#b1)"/>
<ellipse cx="254" cy="339" rx="10.0" ry="5.5" fill="#22f022" transform="rotate(66 254 339)" filter="url(#b1)"/>
<ellipse cx="668" cy="1312" rx="10.9" ry="6.0" fill="#b8f020" transform="rotate(129 668 1312)" filter="url(#b1)"/>
<ellipse cx="63" cy="212" rx="13.0" ry="7.2" fill="#22f022" transform="rotate(151 63 212)" filter="url(#b1)"/>
<ellipse cx="179" cy="580" rx="13.3" ry="7.3" fill="#b8f020" transform="rotate(160 179 580)" filter="url(#b1)"/>
<ellipse cx="393" cy="991" rx="9.7" ry="5.3" fill="#22f022" transform="rotate(175 393 991)" filter="url(#b1)"/>
<ellipse cx="739" cy="307" rx="12.1" ry="6.6" fill="#22f022" transform="rotate(105 739 307)" filter="url(#b1)"/>
<ellipse cx="378" cy="1006" rx="10.7" ry="5.9" fill="#22f022" transform="rotate(53 378 1006)" filter="url(#b1)"/>
<ellipse cx="701" cy="172" rx="10.1" ry="5.6" fill="#22f022" transform="rotate(12 701 172)" filter="url(#b1)"/>
<ellipse cx="573" cy="756" rx="9.2" ry="5.1" fill="#22f022" transform="rotate(79 573 756)" filter="url(#b1)"/>
<ellipse cx="112" cy="24" rx="14.0" ry="7.7" fill="#22f022" transform="rotate(22 112 24)" filter="url(#b1)"/>
<ellipse cx="288" cy="829" rx="9.4" ry="5.2" fill="#22f022" transform="rotate(85 288 829)" filter="url(#b1)"/>
<ellipse cx="850" cy="28" rx="10.7" ry="5.9" fill="#b8f020" transform="rotate(89 850 28)" filter="url(#b1)"/>
<ellipse cx="534" cy="663" rx="12.3" ry="6.8" fill="#22f022" transform="rotate(53 534 663)" filter="url(#b1)"/>
<ellipse cx="519" cy="1254" rx="12.7" ry="7.0" fill="#22f022" transform="rotate(46 519 1254)" filter="url(#b1)"/>
<ellipse cx="865" cy="370" rx="11.9" ry="6.6" fill="#22f022" transform="rotate(64 865 370)" filter="url(#b1)"/>
<ellipse cx="306" cy="296" rx="10.8" ry="5.9" fill="#22f022" transform="rotate(7 306 296)" filter="url(#b1)"/>
<ellipse cx="106" cy="1047" rx="12.0" ry="6.6" fill="#22f022" transform="rotate(1 106 1047)" filter="url(#b1)"/>
<ellipse cx="209" cy="671" rx="11.8" ry="6.5" fill="#22f022" transform="rotate(60 209 671)" filter="url(#b1)"/>
<ellipse cx="453" cy="206" rx="13.3" ry="7.3" fill="#b8f020" transform="rotate(20 453 206)" filter="url(#b1)"/>
<ellipse cx="237" cy="431" rx="10.9" ry="6.0" fill="#22f022" transform="rotate(6 237 431)" filter="url(#b1)"/>
<ellipse cx="379" cy="619" rx="13.4" ry="7.4" fill="#22f022" transform="rotate(178 379 619)" filter="url(#b1)"/>
<ellipse cx="552" cy="195" rx="13.0" ry="7.2" fill="#b8f020" transform="rotate(58 552 195)" filter="url(#b1)"/>
<ellipse cx="563" cy="190" rx="9.0" ry="5.0" fill="#b8f020" transform="rotate(45 563 190)" filter="url(#b1)"/>
<ellipse cx="169" cy="669" rx="10.9" ry="6.0" fill="#b8f020" transform="rotate(62 169 669)" filter="url(#b1)"/>
<ellipse cx="233" cy="993" rx="12.3" ry="6.8" fill="#22f022" transform="rotate(168 233 993)" filter="url(#b1)"/>
<ellipse cx="936" cy="617" rx="11.9" ry="6.5" fill="#b8f020" transform="rotate(112 936 617)" filter="url(#b1)"/>
<ellipse cx="913" cy="176" rx="9.7" ry="5.3" fill="#b8f020" transform="rotate(96 913 176)" filter="url(#b1)"/>
<ellipse cx="551" cy="426" rx="13.8" ry="7.6" fill="#22f022" transform="rotate(54 551 426)" filter="url(#b1)"/>
<ellipse cx="72" cy="61" rx="12.6" ry="6.9" fill="#22f022" transform="rotate(19 72 61)" filter="url(#b1)"/>
<ellipse cx="825" cy="595" rx="12.1" ry="6.7" fill="#22f022" transform="rotate(150 825 595)" filter="url(#b1)"/>
<ellipse cx="309" cy="1053" rx="9.5" ry="5.3" fill="#b8f020" transform="rotate(56 309 1053)" filter="url(#b1)"/>
<ellipse cx="489" cy="383" rx="12.9" ry="7.1" fill="#22f022" transform="rotate(81 489 383)" filter="url(#b1)"/>
<ellipse cx="49" cy="371" rx="10.7" ry="5.9" fill="#22f022" transform="rotate(169 49 371)" filter="url(#b1)"/>
<ellipse cx="866" cy="1177" rx="11.1" ry="6.1" fill="#22f022" transform="rotate(179 866 1177)" filter="url(#b1)"/>
<ellipse cx="502" cy="374" rx="11.3" ry="6.2" fill="#22f022" transform="rotate(162 502 374)" filter="url(#b1)"/>
<rect x="860" y="1350" width="150" height="18" fill="#fff"/>
<text x="910" y="1310" font-size="60" fill="#fff" text-anchor="middle" textLength="170" lengthAdjust="spacingAndGlyphs">10 µm</text>
</g></g>
<text x="-0.5" y="368.0" font-size="25" font-weight="bold" >D</text>
<text x="274.0" y="367.2" font-size="22" textLength="458.0" lengthAdjust="spacingAndGlyphs" >Intravital microscopic imaging of liver sinusoids</text>
<rect x="18.00" y="375.00" width="230.50" height="27.00" fill="#000" stroke="none" stroke-width="1" rx="1.5"/>
<text x="131.5" y="397.0" font-size="23.5" text-anchor="middle" fill="#fff" textLength="114.0" lengthAdjust="spacingAndGlyphs" ><tspan font-weight="bold" font-style="normal">WT-</tspan><tspan font-weight="bold" font-style="italic">Sp</tspan><tspan font-weight="bold" font-style="normal">23F</tspan></text>
<rect x="254.00" y="375.00" width="230.50" height="27.00" fill="#000" stroke="none" stroke-width="1" rx="1.5"/>
<text x="369.0" y="397.0" font-size="23.5" text-anchor="middle" fill="#fff" textLength="132.0" lengthAdjust="spacingAndGlyphs" ><tspan font-weight="bold" font-style="italic">Crp</tspan><tspan font-weight="bold" font-style="normal" font-size="14.6" dy="-8.46">-/-</tspan><tspan font-weight="bold" font-style="normal" dy="8.46">-</tspan><tspan font-weight="bold" font-style="italic">Sp</tspan><tspan font-weight="bold" font-style="normal">23F</tspan></text>
<rect x="490.00" y="375.00" width="230.70" height="27.00" fill="#000" stroke="none" stroke-width="1" rx="1.5"/>
<text x="604.7" y="397.0" font-size="23.5" text-anchor="middle" fill="#fff" textLength="101.0" lengthAdjust="spacingAndGlyphs" ><tspan font-weight="bold" font-style="normal">WT-</tspan><tspan font-weight="bold" font-style="italic">Sp</tspan><tspan font-weight="bold" font-style="normal">14</tspan></text>
<rect x="726.50" y="375.00" width="231.50" height="27.00" fill="#000" stroke="none" stroke-width="1" rx="1.5"/>
<text x="842.0" y="397.0" font-size="23.5" text-anchor="middle" fill="#fff" textLength="118.0" lengthAdjust="spacingAndGlyphs" ><tspan font-weight="bold" font-style="italic">Crp</tspan><tspan font-weight="bold" font-style="normal" font-size="14.6" dy="-8.46">-/-</tspan><tspan font-weight="bold" font-style="normal" dy="8.46">-</tspan><tspan font-weight="bold" font-style="italic">Sp</tspan><tspan font-weight="bold" font-style="normal">14</tspan></text>
<text x="318.3" y="668.7" font-size="19" textLength="352.4" lengthAdjust="spacingAndGlyphs" ><tspan font-weight="bold" font-style="normal" fill="#1ea533">Bacterium, </tspan><tspan font-weight="bold" font-style="normal" fill="#e5101c">Kupffer cell, </tspan><tspan font-weight="bold" font-style="normal" fill="#1d3f9a">Vasculature</tspan></text>
<line x1="1018.90" y1="381.60" x2="1018.90" y2="616.00" stroke="#000" stroke-width="1.3" />
<line x1="1018.90" y1="616.00" x2="1185.60" y2="616.00" stroke="#000" stroke-width="1.4" />
<line x1="1013.90" y1="616.00" x2="1018.90" y2="616.00" stroke="#000" stroke-width="1.3" />
<text x="1010.0" y="621.2" font-size="14.5" font-weight="bold" text-anchor="end" >0</text>
<line x1="1013.90" y1="557.40" x2="1018.90" y2="557.40" stroke="#000" stroke-width="1.3" />
<text x="1010.0" y="562.6" font-size="14.5" font-weight="bold" text-anchor="end" >20</text>
<line x1="1013.90" y1="498.80" x2="1018.90" y2="498.80" stroke="#000" stroke-width="1.3" />
<text x="1010.0" y="504.0" font-size="14.5" font-weight="bold" text-anchor="end" >40</text>
<line x1="1013.90" y1="440.20" x2="1018.90" y2="440.20" stroke="#000" stroke-width="1.3" />
<text x="1010.0" y="445.4" font-size="14.5" font-weight="bold" text-anchor="end" >60</text>
<line x1="1013.90" y1="381.60" x2="1018.90" y2="381.60" stroke="#000" stroke-width="1.3" />
<text x="1010.0" y="386.8" font-size="14.5" font-weight="bold" text-anchor="end" >80</text>
<line x1="1040.00" y1="417.64" x2="1040.00" y2="428.19" stroke="#000" stroke-width="1.3" />
<line x1="1035.00" y1="417.64" x2="1045.00" y2="417.64" stroke="#000" stroke-width="1.3" />
<rect x="1030.00" y="428.19" width="20.00" height="187.81" fill="#fff" stroke="#000" stroke-width="1.3" />
<line x1="1040.00" y1="616.00" x2="1040.00" y2="622.20" stroke="#000" stroke-width="1.3" />
<line x1="1071.15" y1="588.75" x2="1071.15" y2="592.56" stroke="#000" stroke-width="1.3" />
<line x1="1066.15" y1="588.75" x2="1076.15" y2="588.75" stroke="#000" stroke-width="1.3" />
<rect x="1061.60" y="592.56" width="19.10" height="23.44" fill="#a20fe0" stroke="#000" stroke-width="1.3" />
<line x1="1071.15" y1="616.00" x2="1071.15" y2="622.20" stroke="#000" stroke-width="1.3" />
<line x1="1133.30" y1="412.37" x2="1133.30" y2="436.68" stroke="#000" stroke-width="1.3" />
<line x1="1128.30" y1="412.37" x2="1138.30" y2="412.37" stroke="#000" stroke-width="1.3" />
<rect x="1123.30" y="436.68" width="20.00" height="179.32" fill="#000" stroke="#000" stroke-width="1.3" />
<line x1="1133.30" y1="616.00" x2="1133.30" y2="622.20" stroke="#000" stroke-width="1.3" />
<line x1="1163.55" y1="451.63" x2="1163.55" y2="468.33" stroke="#000" stroke-width="1.3" />
<line x1="1158.55" y1="451.63" x2="1168.55" y2="451.63" stroke="#000" stroke-width="1.3" />
<rect x="1153.30" y="468.33" width="20.50" height="147.67" fill="#000" stroke="#000" stroke-width="1.3" />
<line x1="1163.55" y1="616.00" x2="1163.55" y2="622.20" stroke="#000" stroke-width="1.3" />
<text x="1072.0" y="587.0" font-size="17" font-weight="bold" text-anchor="middle" textLength="32.8" lengthAdjust="spacingAndGlyphs" >****</text>
<text x="1165.0" y="447.1" font-size="17.5" font-weight="bold" text-anchor="middle" textLength="20.0" lengthAdjust="spacingAndGlyphs" >ns</text>
<text x="991.0" y="636.7" font-size="14" textLength="28.6" lengthAdjust="spacingAndGlyphs" >CRP</text>
<text x="1040.0" y="638.5" font-size="18" font-weight="bold" text-anchor="middle" >+</text>
<text x="1071.0" y="638.5" font-size="18" font-weight="bold" text-anchor="middle" >-</text>
<text x="1131.0" y="638.5" font-size="18" font-weight="bold" text-anchor="middle" >+</text>
<text x="1163.3" y="638.5" font-size="18" font-weight="bold" text-anchor="middle" >-</text>
<text x="1026.7" y="653.3" font-size="17" textLength="54.3" lengthAdjust="spacingAndGlyphs" ><tspan font-weight="bold" font-style="italic">Sp</tspan><tspan font-weight="bold" font-style="normal">23F</tspan></text>
<text x="1126.2" y="653.3" font-size="17" textLength="42.7" lengthAdjust="spacingAndGlyphs" ><tspan font-weight="bold" font-style="italic">Sp</tspan><tspan font-weight="bold" font-style="normal">14</tspan></text>
<g transform="translate(982.2,500) rotate(-90)">
<text x="0.0" y="0.0" font-size="18.5" font-weight="bold" text-anchor="middle" textLength="142.2" lengthAdjust="spacingAndGlyphs" >Bacteria per FOV</text>
</g>
<text x="0.5" y="705.3" font-size="23" font-weight="bold" textLength="16.5" lengthAdjust="spacingAndGlyphs" >E</text>
<text x="136.3" y="705.8" font-size="22" textLength="665.0" lengthAdjust="spacingAndGlyphs" ><tspan font-weight="normal" font-style="normal">CRP-mediated </tspan><tspan font-weight="normal" font-style="italic">in vitro</tspan><tspan font-weight="normal" font-style="normal"> pneumococcal binding to primary mouse KCs</tspan></text>
<rect x="24.75" y="716.50" width="226.25" height="27.00" fill="#000" stroke="none" stroke-width="1" rx="1.5"/>
<text x="136.5" y="737.7" font-size="21.5" text-anchor="middle" fill="#fff" textLength="174.0" lengthAdjust="spacingAndGlyphs" ><tspan font-weight="bold" font-style="normal">WT serum-</tspan><tspan font-weight="bold" font-style="italic">Sp</tspan><tspan font-weight="bold" font-style="normal">23F</tspan></text>
<rect x="257.40" y="716.50" width="228.30" height="27.00" fill="#000" stroke="none" stroke-width="1" rx="1.5"/>
<text x="368.5" y="737.7" font-size="21.5" text-anchor="middle" fill="#fff" textLength="189.0" lengthAdjust="spacingAndGlyphs" ><tspan font-weight="bold" font-style="italic">Crp</tspan><tspan font-weight="bold" font-style="normal" font-size="13.3" dy="-7.74">-/-</tspan><tspan font-weight="bold" font-style="normal" dy="7.74"> serum-</tspan><tspan font-weight="bold" font-style="italic">Sp</tspan><tspan font-weight="bold" font-style="normal">23F</tspan></text>
<rect x="490.20" y="716.50" width="228.00" height="27.00" fill="#000" stroke="none" stroke-width="1" rx="1.5"/>
<text x="602.6" y="737.7" font-size="21.5" text-anchor="middle" fill="#fff" textLength="164.0" lengthAdjust="spacingAndGlyphs" ><tspan font-weight="bold" font-style="normal">WT serum-</tspan><tspan font-weight="bold" font-style="italic">Sp</tspan><tspan font-weight="bold" font-style="normal">14</tspan></text>
<rect x="724.80" y="716.50" width="227.80" height="27.00" fill="#000" stroke="none" stroke-width="1" rx="1.5"/>
<text x="837.9" y="737.7" font-size="21.5" text-anchor="middle" fill="#fff" textLength="176.0" lengthAdjust="spacingAndGlyphs" ><tspan font-weight="bold" font-style="italic">Crp</tspan><tspan font-weight="bold" font-style="normal" font-size="13.3" dy="-7.74">-/-</tspan><tspan font-weight="bold" font-style="normal" dy="7.74"> serum-</tspan><tspan font-weight="bold" font-style="italic">Sp</tspan><tspan font-weight="bold" font-style="normal">14</tspan></text>
<text x="370.3" y="1072.2" font-size="19" textLength="223.6" lengthAdjust="spacingAndGlyphs" ><tspan font-weight="bold" font-style="normal" fill="#1ea533">Bacterium, </tspan><tspan font-weight="bold" font-style="normal" fill="#e5101c">Kupffer cell</tspan></text>
<line x1="1031.00" y1="753.04" x2="1031.00" y2="989.50" stroke="#000" stroke-width="1.3" />
<line x1="1031.00" y1="989.50" x2="1197.80" y2="989.50" stroke="#000" stroke-width="1.4" />
<line x1="1026.00" y1="989.50" x2="1031.00" y2="989.50" stroke="#000" stroke-width="1.3" />
<text x="1020.3" y="994.7" font-size="14.5" font-weight="bold" text-anchor="end" >0</text>
<line x1="1026.00" y1="955.72" x2="1031.00" y2="955.72" stroke="#000" stroke-width="1.3" />
<text x="1020.3" y="960.9" font-size="14.5" font-weight="bold" text-anchor="end" >20</text>
<line x1="1026.00" y1="921.94" x2="1031.00" y2="921.94" stroke="#000" stroke-width="1.3" />
<text x="1020.3" y="927.1" font-size="14.5" font-weight="bold" text-anchor="end" >40</text>
<line x1="1026.00" y1="888.16" x2="1031.00" y2="888.16" stroke="#000" stroke-width="1.3" />
<text x="1020.3" y="893.4" font-size="14.5" font-weight="bold" text-anchor="end" >60</text>
<line x1="1026.00" y1="854.38" x2="1031.00" y2="854.38" stroke="#000" stroke-width="1.3" />
<text x="1020.3" y="859.6" font-size="14.5" font-weight="bold" text-anchor="end" >80</text>
<line x1="1026.00" y1="820.60" x2="1031.00" y2="820.60" stroke="#000" stroke-width="1.3" />
<text x="1020.3" y="825.8" font-size="14.5" font-weight="bold" text-anchor="end" >100</text>
<line x1="1026.00" y1="786.82" x2="1031.00" y2="786.82" stroke="#000" stroke-width="1.3" />
<text x="1020.3" y="792.0" font-size="14.5" font-weight="bold" text-anchor="end" >120</text>
<line x1="1026.00" y1="753.04" x2="1031.00" y2="753.04" stroke="#000" stroke-width="1.3" />
<text x="1020.3" y="758.2" font-size="14.5" font-weight="bold" text-anchor="end" >140</text>
<line x1="1055.45" y1="784.46" x2="1055.45" y2="793.91" stroke="#000" stroke-width="1.3" />
<line x1="1050.45" y1="784.46" x2="1060.45" y2="784.46" stroke="#000" stroke-width="1.3" />
<rect x="1043.30" y="793.91" width="24.30" height="195.59" fill="#fff" stroke="#000" stroke-width="1.3" />
<line x1="1055.45" y1="989.50" x2="1055.45" y2="996.00" stroke="#000" stroke-width="1.3" />
<line x1="1093.10" y1="966.70" x2="1093.10" y2="972.61" stroke="#000" stroke-width="1.3" />
<line x1="1088.10" y1="966.70" x2="1098.10" y2="966.70" stroke="#000" stroke-width="1.3" />
<rect x="1081.40" y="972.61" width="23.40" height="16.89" fill="#a20fe0" stroke="#000" stroke-width="1.3" />
<line x1="1093.10" y1="989.50" x2="1093.10" y2="996.00" stroke="#000" stroke-width="1.3" />
<line x1="1136.60" y1="825.67" x2="1136.60" y2="837.49" stroke="#000" stroke-width="1.3" />
<line x1="1131.60" y1="825.67" x2="1141.60" y2="825.67" stroke="#000" stroke-width="1.3" />
<rect x="1124.40" y="837.49" width="24.40" height="152.01" fill="#000" stroke="#000" stroke-width="1.3" />
<line x1="1136.60" y1="989.50" x2="1136.60" y2="996.00" stroke="#000" stroke-width="1.3" />
<line x1="1173.75" y1="834.62" x2="1173.75" y2="841.88" stroke="#000" stroke-width="1.3" />
<line x1="1168.75" y1="834.62" x2="1178.75" y2="834.62" stroke="#000" stroke-width="1.3" />
<rect x="1161.60" y="841.88" width="24.30" height="147.62" fill="#000" stroke="#000" stroke-width="1.3" />
<line x1="1173.75" y1="989.50" x2="1173.75" y2="996.00" stroke="#000" stroke-width="1.3" />
<text x="1093.0" y="964.0" font-size="17" font-weight="bold" text-anchor="middle" textLength="33.5" lengthAdjust="spacingAndGlyphs" >****</text>
<text x="1173.0" y="829.4" font-size="17.5" font-weight="bold" text-anchor="middle" textLength="20.0" lengthAdjust="spacingAndGlyphs" >ns</text>
<text x="997.9" y="1013.9" font-size="14" textLength="30.7" lengthAdjust="spacingAndGlyphs" >CRP</text>
<text x="1054.6" y="1015.0" font-size="18" font-weight="bold" text-anchor="middle" >+</text>
<text x="1093.2" y="1015.0" font-size="18" font-weight="bold" text-anchor="middle" >-</text>
<text x="1135.0" y="1015.0" font-size="18" font-weight="bold" text-anchor="middle" >+</text>
<text x="1172.2" y="1015.0" font-size="18" font-weight="bold" text-anchor="middle" >-</text>
<text x="1048.0" y="1031.0" font-size="17" textLength="54.0" lengthAdjust="spacingAndGlyphs" ><tspan font-weight="bold" font-style="italic">Sp</tspan><tspan font-weight="bold" font-style="normal">23F</tspan></text>
<text x="1130.8" y="1031.0" font-size="17" textLength="43.3" lengthAdjust="spacingAndGlyphs" ><tspan font-weight="bold" font-style="italic">Sp</tspan><tspan font-weight="bold" font-style="normal">14</tspan></text>
<g transform="translate(982.5,872) rotate(-90)">
<text x="0.0" y="0.0" font-size="18.5" font-weight="bold" text-anchor="middle" textLength="142.0" lengthAdjust="spacingAndGlyphs" >Bacteria per FOV</text>
</g>
<text x="3.0" y="1115.2" font-size="24" font-weight="bold" >F</text>
<text x="122.5" y="1119.9" font-size="20.5" textLength="320.0" lengthAdjust="spacingAndGlyphs" >Passive immunity of mouse CRP</text>
<text x="52.5" y="1141.8" font-size="16.3" textLength="222.8" lengthAdjust="spacingAndGlyphs" ><tspan font-weight="normal" font-style="normal">Blood bacteria of </tspan><tspan font-weight="normal" font-style="italic">Crp</tspan><tspan font-weight="normal" font-style="italic" font-size="10.1" dy="-5.87">-/-</tspan><tspan font-weight="normal" font-style="normal" dy="5.87"> mice</tspan></text>
<text x="131.8" y="1164.7" font-size="16.3" textLength="65.4" lengthAdjust="spacingAndGlyphs" ><tspan font-weight="normal" font-style="normal">(</tspan><tspan font-weight="normal" font-style="italic">Sp</tspan><tspan font-weight="normal" font-style="normal">23F)</tspan></text>
<line x1="61.10" y1="1160.51" x2="61.10" y2="1348.60" stroke="#000" stroke-width="1.3" />
<line x1="61.10" y1="1348.60" x2="249.20" y2="1348.60" stroke="#000" stroke-width="1.4" />
<line x1="56.10" y1="1348.60" x2="61.10" y2="1348.60" stroke="#000" stroke-width="1.3" />
<text x="51.8" y="1353.6" font-size="14" font-weight="bold" text-anchor="end" >0</text>
<line x1="56.10" y1="1321.73" x2="61.10" y2="1321.73" stroke="#000" stroke-width="1.3" />
<text x="51.8" y="1326.7" font-size="14" font-weight="bold" text-anchor="end" >1</text>
<line x1="56.10" y1="1294.86" x2="61.10" y2="1294.86" stroke="#000" stroke-width="1.3" />
<text x="51.8" y="1299.9" font-size="14" font-weight="bold" text-anchor="end" >2</text>
<line x1="56.10" y1="1267.99" x2="61.10" y2="1267.99" stroke="#000" stroke-width="1.3" />
<text x="51.8" y="1273.0" font-size="14" font-weight="bold" text-anchor="end" >3</text>
<line x1="56.10" y1="1241.12" x2="61.10" y2="1241.12" stroke="#000" stroke-width="1.3" />
<text x="51.8" y="1246.1" font-size="14" font-weight="bold" text-anchor="end" >4</text>
<line x1="56.10" y1="1214.25" x2="61.10" y2="1214.25" stroke="#000" stroke-width="1.3" />
<text x="51.8" y="1219.2" font-size="14" font-weight="bold" text-anchor="end" >5</text>
<line x1="56.10" y1="1187.38" x2="61.10" y2="1187.38" stroke="#000" stroke-width="1.3" />
<text x="51.8" y="1192.4" font-size="14" font-weight="bold" text-anchor="end" >6</text>
<line x1="56.10" y1="1160.51" x2="61.10" y2="1160.51" stroke="#000" stroke-width="1.3" />
<text x="51.8" y="1165.5" font-size="14" font-weight="bold" text-anchor="end" >7</text>
<line x1="61.10" y1="1348.60" x2="61.10" y2="1353.60" stroke="#000" stroke-width="1.3" />
<text x="61.1" y="1370.0" font-size="13.5" font-weight="bold" text-anchor="middle" >0</text>
<line x1="92.45" y1="1348.60" x2="92.45" y2="1353.60" stroke="#000" stroke-width="1.3" />
<text x="92.5" y="1370.0" font-size="13.5" font-weight="bold" text-anchor="middle" >5</text>
<line x1="123.80" y1="1348.60" x2="123.80" y2="1353.60" stroke="#000" stroke-width="1.3" />
<text x="123.8" y="1370.0" font-size="13.5" font-weight="bold" text-anchor="middle" >10</text>
<line x1="155.15" y1="1348.60" x2="155.15" y2="1353.60" stroke="#000" stroke-width="1.3" />
<text x="155.2" y="1370.0" font-size="13.5" font-weight="bold" text-anchor="middle" >15</text>
<line x1="186.50" y1="1348.60" x2="186.50" y2="1353.60" stroke="#000" stroke-width="1.3" />
<text x="186.5" y="1370.0" font-size="13.5" font-weight="bold" text-anchor="middle" >20</text>
<line x1="217.85" y1="1348.60" x2="217.85" y2="1353.60" stroke="#000" stroke-width="1.3" />
<text x="217.8" y="1370.0" font-size="13.5" font-weight="bold" text-anchor="middle" >25</text>
<line x1="249.20" y1="1348.60" x2="249.20" y2="1353.60" stroke="#000" stroke-width="1.3" />
<text x="249.2" y="1370.0" font-size="13.5" font-weight="bold" text-anchor="middle" >30</text>
<text x="154.9" y="1388.2" font-size="15.8" font-weight="bold" text-anchor="middle" textLength="86.8" lengthAdjust="spacingAndGlyphs" >Time (min)</text>
<g transform="translate(31.5,1255) rotate(-90)">
<text x="0.0" y="0.0" font-size="18.5" text-anchor="middle" textLength="165.0" lengthAdjust="spacingAndGlyphs" ><tspan font-weight="bold" font-style="normal">Log</tspan><tspan font-weight="bold" font-style="normal" font-size="11.5" dy="4.07">10</tspan><tspan font-weight="bold" font-style="normal" dy="-4.07">CFU/mL blood</tspan></text>
</g>
<line x1="61.10" y1="1284.40" x2="249.20" y2="1284.40" stroke="#000" stroke-width="1.2" stroke-dasharray="2.5,2.5"/>
<polyline points="61.10,1192.75 73.64,1205.38 92.45,1218.82 123.80,1236.82 186.50,1264.50 249.20,1271.75" fill="none" stroke="#b040e0" stroke-width="1.2" />
<polyline points="61.10,1191.41 73.64,1191.14 92.45,1190.07 123.80,1190.07 186.50,1190.60 249.20,1190.07" fill="none" stroke="#222" stroke-width="1.1" />
<circle cx="61.10" cy="1192.75" r="5.60" fill="#9a10cc" stroke="none" stroke-width="1" />
<circle cx="73.64" cy="1205.38" r="5.60" fill="#9a10cc" stroke="none" stroke-width="1" />
<circle cx="92.45" cy="1218.82" r="5.60" fill="#9a10cc" stroke="none" stroke-width="1" />
<circle cx="123.80" cy="1236.82" r="5.60" fill="#9a10cc" stroke="none" stroke-width="1" />
<circle cx="186.50" cy="1264.50" r="5.60" fill="#9a10cc" stroke="none" stroke-width="1" />
<circle cx="249.20" cy="1271.75" r="5.60" fill="#9a10cc" stroke="none" stroke-width="1" />
<circle cx="61.10" cy="1191.41" r="4.70" fill="#fff" stroke="#000" stroke-width="2" />
<circle cx="73.64" cy="1191.14" r="4.70" fill="#fff" stroke="#000" stroke-width="2" />
<circle cx="92.45" cy="1190.07" r="4.70" fill="#fff" stroke="#000" stroke-width="2" />
<circle cx="123.80" cy="1190.07" r="4.70" fill="#fff" stroke="#000" stroke-width="2" />
<circle cx="186.50" cy="1190.60" r="4.70" fill="#fff" stroke="#000" stroke-width="2" />
<circle cx="249.20" cy="1190.07" r="4.70" fill="#fff" stroke="#000" stroke-width="2" />
<text x="185.5" y="1211.8" font-size="16.5" font-weight="bold" textLength="65.3" lengthAdjust="spacingAndGlyphs" >-r-mCRP</text>
<text x="184.3" y="1254.5" font-size="16.5" font-weight="bold" textLength="68.9" lengthAdjust="spacingAndGlyphs" >+r-mCRP</text>
<text x="217.7" y="1285.5" font-size="17" font-weight="bold" text-anchor="middle" textLength="33.5" lengthAdjust="spacingAndGlyphs" >****</text>
<line x1="401.00" y1="1154.04" x2="401.00" y2="1351.00" stroke="#000" stroke-width="1.3" />
<line x1="401.00" y1="1351.00" x2="487.00" y2="1351.00" stroke="#000" stroke-width="1.4" />
<line x1="396.00" y1="1351.00" x2="401.00" y2="1351.00" stroke="#000" stroke-width="1.3" />
<text x="392.4" y="1356.2" font-size="14.5" font-weight="bold" text-anchor="end" >0</text>
<line x1="396.00" y1="1301.76" x2="401.00" y2="1301.76" stroke="#000" stroke-width="1.3" />
<text x="392.4" y="1307.0" font-size="14.5" font-weight="bold" text-anchor="end" >4</text>
<line x1="396.00" y1="1252.52" x2="401.00" y2="1252.52" stroke="#000" stroke-width="1.3" />
<text x="392.4" y="1257.7" font-size="14.5" font-weight="bold" text-anchor="end" >8</text>
<line x1="396.00" y1="1203.28" x2="401.00" y2="1203.28" stroke="#000" stroke-width="1.3" />
<text x="392.4" y="1208.5" font-size="14.5" font-weight="bold" text-anchor="end" >12</text>
<line x1="396.00" y1="1154.04" x2="401.00" y2="1154.04" stroke="#000" stroke-width="1.3" />
<text x="392.4" y="1159.2" font-size="14.5" font-weight="bold" text-anchor="end" >16</text>
<text x="440.5" y="1145.0" font-size="16.5" font-weight="bold" text-anchor="middle" textLength="57.0" lengthAdjust="spacingAndGlyphs" >30 min</text>
<line x1="425.70" y1="1351.00" x2="425.70" y2="1357.00" stroke="#000" stroke-width="1.3" />
<line x1="461.80" y1="1351.00" x2="461.80" y2="1357.00" stroke="#000" stroke-width="1.3" />
<rect x="414.00" y="1347.06" width="23.40" height="3.94" fill="#ffff00" stroke="#222" stroke-width="0.9" />
<rect x="414.00" y="1327.00" width="23.40" height="20.07" fill="#0000ff" stroke="#222" stroke-width="0.9" />
<line x1="425.70" y1="1327.00" x2="425.70" y2="1321.95" stroke="#222" stroke-width="1.3" />
<line x1="420.70" y1="1321.95" x2="430.70" y2="1321.95" stroke="#222" stroke-width="1.3" />
<line x1="425.70" y1="1347.06" x2="425.70" y2="1346.08" stroke="#222" stroke-width="1" />
<line x1="421.70" y1="1346.08" x2="429.70" y2="1346.08" stroke="#222" stroke-width="1" />
<circle cx="425.70" cy="1239.60" r="5.80" fill="#9a9a9a" stroke="#555" stroke-width="1" />
<rect x="450.00" y="1200.82" width="23.60" height="150.18" fill="#ff0000" stroke="#222" stroke-width="0.9" />
<rect x="450.00" y="1173.37" width="23.60" height="27.45" fill="#ffff00" stroke="#222" stroke-width="0.9" />
<rect x="450.00" y="1162.04" width="23.60" height="11.33" fill="#0000ff" stroke="#222" stroke-width="0.9" />
<line x1="461.80" y1="1200.82" x2="461.80" y2="1184.40" stroke="#222" stroke-width="1.3" />
<line x1="456.80" y1="1184.40" x2="466.80" y2="1184.40" stroke="#222" stroke-width="1.3" />
<line x1="461.80" y1="1173.37" x2="461.80" y2="1171.89" stroke="#222" stroke-width="1" />
<line x1="456.80" y1="1171.89" x2="466.80" y2="1171.89" stroke="#222" stroke-width="1" />
<line x1="461.80" y1="1162.04" x2="461.80" y2="1160.00" stroke="#222" stroke-width="1" />
<line x1="456.80" y1="1160.00" x2="466.80" y2="1160.00" stroke="#222" stroke-width="1" />
<circle cx="461.80" cy="1223.60" r="5.80" fill="#9a9a9a" stroke="#555" stroke-width="1" />
<text x="377.0" y="1371.6" font-size="15" textLength="28.6" lengthAdjust="spacingAndGlyphs" >CRP</text>
<text x="425.7" y="1372.5" font-size="18" font-weight="bold" text-anchor="middle" >+</text>
<text x="461.8" y="1372.5" font-size="18" font-weight="bold" text-anchor="middle" >-</text>
<g transform="translate(371.5,1253.5) rotate(-90)">
<text x="0.0" y="0.0" font-size="20" text-anchor="middle" textLength="151.0" lengthAdjust="spacingAndGlyphs" ><tspan font-weight="bold" font-style="normal">CFU count (x 10</tspan><tspan font-weight="bold" font-style="normal" font-size="12.4" dy="-7.20">5</tspan><tspan font-weight="bold" font-style="normal" dy="7.20">)</tspan></text>
</g>
<circle cx="501.00" cy="1174.40" r="4.50" fill="#9a9a9a" stroke="#555" stroke-width="0.9" />
<text x="512.4" y="1179.5" font-size="15" textLength="54.0" lengthAdjust="spacingAndGlyphs" >Inoculum</text>
<rect x="497.00" y="1188.60" width="8.60" height="8.40" fill="#2a2aff" stroke="#444" stroke-width="0.8" />
<text x="516.0" y="1197.5" font-size="15" textLength="29.0" lengthAdjust="spacingAndGlyphs" >Liver</text>
<rect x="497.00" y="1206.00" width="8.60" height="8.60" fill="#ffff00" stroke="#444" stroke-width="0.8" />
<text x="514.0" y="1215.0" font-size="15" textLength="41.6" lengthAdjust="spacingAndGlyphs" >Spleen</text>
<rect x="497.00" y="1225.00" width="8.60" height="8.20" fill="#ff0000" stroke="#444" stroke-width="0.8" />
<text x="512.4" y="1233.6" font-size="15" textLength="34.0" lengthAdjust="spacingAndGlyphs" >Blood</text>
<text x="641.5" y="1115.3" font-size="26" font-weight="bold" >G</text>
<line x1="716.50" y1="1137.50" x2="716.50" y2="1347.90" stroke="#000" stroke-width="1.3" />
<line x1="716.50" y1="1347.90" x2="926.08" y2="1347.90" stroke="#000" stroke-width="1.4" />
<line x1="711.50" y1="1347.90" x2="716.50" y2="1347.90" stroke="#000" stroke-width="1.3" />
<text x="709.9" y="1353.2" font-size="15" font-weight="bold" text-anchor="end" >0</text>
<line x1="711.50" y1="1305.82" x2="716.50" y2="1305.82" stroke="#000" stroke-width="1.3" />
<text x="709.9" y="1311.1" font-size="15" font-weight="bold" text-anchor="end" >20</text>
<line x1="711.50" y1="1263.74" x2="716.50" y2="1263.74" stroke="#000" stroke-width="1.3" />
<text x="709.9" y="1269.0" font-size="15" font-weight="bold" text-anchor="end" >40</text>
<line x1="711.50" y1="1221.66" x2="716.50" y2="1221.66" stroke="#000" stroke-width="1.3" />
<text x="709.9" y="1227.0" font-size="15" font-weight="bold" text-anchor="end" >60</text>
<line x1="711.50" y1="1179.58" x2="716.50" y2="1179.58" stroke="#000" stroke-width="1.3" />
<text x="709.9" y="1184.9" font-size="15" font-weight="bold" text-anchor="end" >80</text>
<line x1="711.50" y1="1137.50" x2="716.50" y2="1137.50" stroke="#000" stroke-width="1.3" />
<text x="709.9" y="1142.8" font-size="15" font-weight="bold" text-anchor="end" >100</text>
<line x1="716.50" y1="1347.90" x2="716.50" y2="1354.00" stroke="#000" stroke-width="1.3" />
<text x="716.5" y="1371.3" font-size="14.5" font-weight="bold" text-anchor="middle" >0</text>
<line x1="746.44" y1="1347.90" x2="746.44" y2="1354.00" stroke="#000" stroke-width="1.3" />
<text x="746.4" y="1371.3" font-size="14.5" font-weight="bold" text-anchor="middle" >1</text>
<line x1="776.38" y1="1347.90" x2="776.38" y2="1354.00" stroke="#000" stroke-width="1.3" />
<text x="776.4" y="1371.3" font-size="14.5" font-weight="bold" text-anchor="middle" >2</text>
<line x1="806.32" y1="1347.90" x2="806.32" y2="1354.00" stroke="#000" stroke-width="1.3" />
<text x="806.3" y="1371.3" font-size="14.5" font-weight="bold" text-anchor="middle" >3</text>
<line x1="836.26" y1="1347.90" x2="836.26" y2="1354.00" stroke="#000" stroke-width="1.3" />
<text x="836.3" y="1371.3" font-size="14.5" font-weight="bold" text-anchor="middle" >4</text>
<line x1="866.20" y1="1347.90" x2="866.20" y2="1354.00" stroke="#000" stroke-width="1.3" />
<text x="866.2" y="1371.3" font-size="14.5" font-weight="bold" text-anchor="middle" >5</text>
<line x1="896.14" y1="1347.90" x2="896.14" y2="1354.00" stroke="#000" stroke-width="1.3" />
<text x="896.1" y="1371.3" font-size="14.5" font-weight="bold" text-anchor="middle" >6</text>
<line x1="926.08" y1="1347.90" x2="926.08" y2="1354.00" stroke="#000" stroke-width="1.3" />
<text x="926.1" y="1371.3" font-size="14.5" font-weight="bold" text-anchor="middle" >7</text>
<text x="820.0" y="1388.7" font-size="19" font-weight="bold" text-anchor="middle" textLength="168.0" lengthAdjust="spacingAndGlyphs" >Day post infection</text>
<g transform="translate(676,1242.7) rotate(-90)">
<text x="0.0" y="0.0" font-size="19" font-weight="bold" text-anchor="middle" textLength="92.0" lengthAdjust="spacingAndGlyphs" >% Survival</text>
</g>
<line x1="716.50" y1="1139.60" x2="926.08" y2="1139.60" stroke="#777" stroke-width="1.5" />
<line x1="716.50" y1="1141.60" x2="926.08" y2="1141.60" stroke="#444" stroke-width="1.5" />
<line x1="760.50" y1="1137.50" x2="760.50" y2="1347.90" stroke="#c050f0" stroke-width="1.5" />
<circle cx="760.50" cy="1347.90" r="6.30" fill="#9a10cc" stroke="none" stroke-width="1" />
<text x="783.8" y="1336.0" font-size="16" font-weight="bold" text-anchor="middle" textLength="32.5" lengthAdjust="spacingAndGlyphs" >****</text>
<polygon points="926.00,1133.89 933.00,1147.19 919.00,1147.19" fill="#a040c0" stroke="none" stroke-width="1" stroke-linejoin="miter"/>
<polygon points="926.00,1135.39 932.00,1146.79 920.00,1146.79" fill="#fff" stroke="#000" stroke-width="2.2" stroke-linejoin="miter"/>
<circle cx="819.20" cy="1192.10" r="4.60" fill="#fff" stroke="#000" stroke-width="2" />
<circle cx="819.20" cy="1214.80" r="6.00" fill="#9a10cc" stroke="none" stroke-width="1" />
<polygon points="819.20,1238.64 824.70,1249.09 813.70,1249.09" fill="#fff" stroke="#000" stroke-width="2" stroke-linejoin="miter"/>
<polygon points="819.20,1259.59 826.20,1272.89 812.20,1272.89" fill="#a64fd0" stroke="none" stroke-width="1" stroke-linejoin="miter"/>
<text x="847.5" y="1197.2" font-size="16" textLength="24.5" lengthAdjust="spacingAndGlyphs" >WT</text>
<text x="848.0" y="1220.7" font-size="16" textLength="36.8" lengthAdjust="spacingAndGlyphs" ><tspan font-weight="normal" font-style="italic">Crp</tspan><tspan font-weight="normal" font-style="italic" font-size="9.9" dy="-5.76">-/-</tspan></text>
<text x="847.5" y="1249.5" font-size="16" textLength="24.5" lengthAdjust="spacingAndGlyphs" >WT</text>
<text x="848.0" y="1273.5" font-size="16" textLength="36.8" lengthAdjust="spacingAndGlyphs" ><tspan font-weight="normal" font-style="italic">Crp</tspan><tspan font-weight="normal" font-style="italic" font-size="9.9" dy="-5.76">-/-</tspan></text>
<polyline points="886.00,1190.80 890.50,1190.80 890.50,1221.20 886.00,1221.20" fill="none" stroke="#000" stroke-width="1" />
<polyline points="886.00,1240.70 890.50,1240.70 890.50,1271.30 886.00,1271.30" fill="none" stroke="#000" stroke-width="1" />
<text x="892.8" y="1208.7" font-size="16" textLength="43.7" lengthAdjust="spacingAndGlyphs" ><tspan font-weight="normal" font-style="italic">Sp</tspan><tspan font-weight="normal" font-style="normal">23F</tspan></text>
<text x="892.8" y="1259.3" font-size="16" textLength="33.9" lengthAdjust="spacingAndGlyphs" ><tspan font-weight="normal" font-style="italic">Sp</tspan><tspan font-weight="normal" font-style="normal">14</tspan></text>
</svg></body></html>
